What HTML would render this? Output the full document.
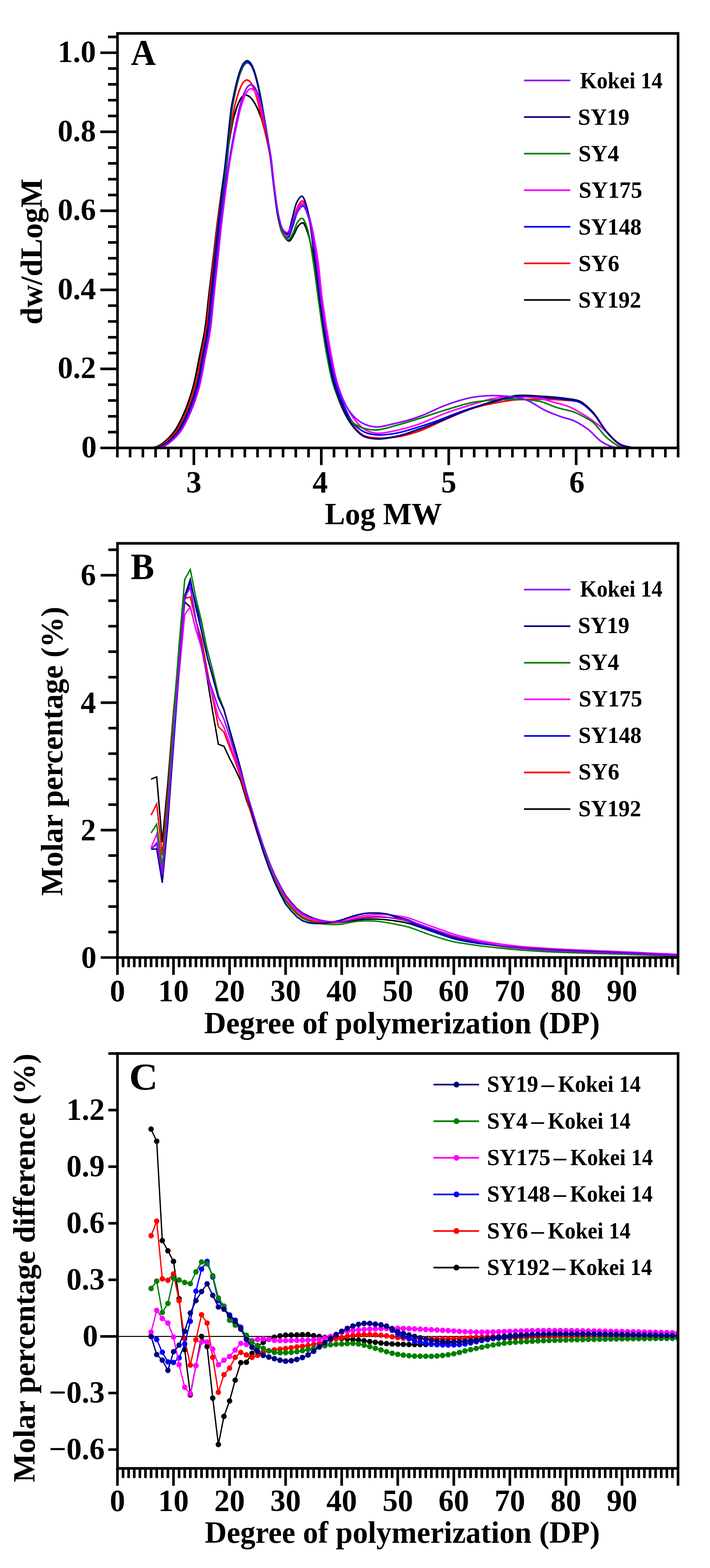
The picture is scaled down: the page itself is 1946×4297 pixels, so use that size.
<!DOCTYPE html>
<html><head><meta charset="utf-8"><title>Figure</title>
<style>
html,body{margin:0;padding:0;background:#fff;}
svg{display:block;}
text{font-family:'Liberation Serif','Times New Roman',serif;font-weight:bold;fill:#000;}
</style></head><body>
<svg width="1946" height="4297" viewBox="0 0 1946 4297" font-family="'Liberation Serif','Times New Roman',serif" font-weight="bold">
<rect width="1946" height="4297" fill="#fff"/>
<defs>
<clipPath id="ca"><rect x="322.0" y="91.5" width="1536.5" height="1136.0"/></clipPath>
<clipPath id="cb"><rect x="322.0" y="1489.0" width="1536.5" height="1135.0"/></clipPath>
<clipPath id="cc"><rect x="322.0" y="2887.0" width="1536.5" height="1137.0"/></clipPath>
</defs>
<g clip-path="url(#ca)" fill="none" stroke-width="4.4" stroke-linejoin="round">
<path d="M407.6 1227.5C414.6 1226.4 422.1 1226.5 428.6 1224.3C434.9 1222.1 439.8 1219.3 446.1 1214.5C455.4 1207.4 467.9 1195.7 477.1 1183.1C487.8 1168.6 496.5 1150 504.7 1131.1C513.9 1110.2 521.7 1087.1 528.5 1062.9C536 1036.2 541 1004.9 546.7 977.3C551.9 951.6 557.3 929.3 561.5 902.6C566.3 872.4 569 838 572.8 805.1C576.8 771.6 580.9 737.4 584.9 703.3C588.9 669.1 591.9 638.9 596.9 600.4C603.4 551 613.1 481.2 621.1 431.5C627.4 392 635.3 345.3 639.8 325.4C641.6 317.4 642.8 314.2 644.4 308.9C645.9 303.9 647.4 299 649 294.3C650.6 290 652.2 285.7 653.9 281.8C655.5 278.2 657.2 274.7 659.1 271.6C660.8 268.8 662.5 266 664.8 264.1C666.9 262.3 669.6 260.5 672.4 260.4C675.6 260.2 679.8 262.2 682.8 264.1C685.8 265.9 688.1 268.8 690.5 271.6C693.1 274.6 695.3 278.2 697.5 281.8C699.9 285.7 702 290 704.2 294.3C706.4 299 708.5 303.9 710.5 308.9C712.7 314.2 714.3 317.5 716.7 325.4C722.5 344.4 734.4 392.8 740.2 425C745.4 454.7 746.8 482.5 750.6 511.6C754.5 541.3 757.9 577.5 763.2 601.5C766.9 618.1 769.8 632.3 775.8 642.7C780.3 650.5 787.5 660.9 792.6 660.5C797.3 660.2 801.5 649.2 805.5 642.7C809.9 635.5 812.8 624.3 817.7 618.9C821.3 614.8 826.3 609.8 829.9 610.7C834.8 612 838.4 624 842.2 634C848.2 650.2 853.1 674.4 857.9 700.1C864.5 735.4 869.3 784.3 875.3 826.8C881.5 869.9 887.6 917 894.6 956.8C900.5 990.8 905.9 1022.8 913.8 1051C920.3 1074.6 927.6 1095.2 936.5 1114.9C944.6 1132.9 953.7 1150.8 964.4 1164.7C973.8 1176.9 983.8 1188.9 995.8 1195C1007.2 1200.8 1020.2 1201.1 1034.3 1201.5C1051.1 1201.9 1071.6 1199 1090.2 1195C1109.3 1190.9 1128.7 1183.2 1147.4 1176.6C1165.9 1170.1 1183.7 1163.3 1201.9 1156C1220.5 1148.6 1239.7 1139.7 1257.8 1132.6C1274.6 1126.1 1290.6 1120.4 1306.7 1114.9C1322.5 1109.5 1336.9 1104.5 1353.5 1099.7C1372 1094.4 1392.1 1087 1412.6 1084.5C1433.9 1082 1455.7 1084.4 1478.9 1085.6C1504.6 1087 1539.7 1090 1560 1093.2C1572.4 1095.1 1579.8 1094.8 1589.7 1099.7C1602 1105.9 1614.8 1118.5 1626.3 1131.1C1639.5 1145.6 1649.9 1168.1 1663 1183.1C1674.7 1196.5 1686.8 1210.4 1700 1217.8C1711.5 1224.1 1724.3 1224.3 1736.4 1227.5" stroke="#000000"/>
<path d="M412.5 1227.5C419.5 1226.4 427 1226.5 433.5 1224.3C439.8 1222.1 444.7 1219.3 450.9 1214.5C460.3 1207.4 472.8 1195.7 482 1183.1C492.7 1168.6 501.4 1150 509.6 1131.1C518.7 1110.2 526.7 1087.2 533.4 1062.9C540.7 1036.2 545.3 1004.9 550.8 977.3C555.8 951.6 561 929.2 565 902.6C569.4 872.3 571.8 838 575.4 805.1C579 771.6 582.8 737.4 586.5 703.3C590.2 669.1 592.9 638.9 597.6 600.4C603.8 551 613.6 484.7 621.4 431.5C628.4 383.9 637.2 320.9 642.2 296.1C644.1 286.7 645.3 282.9 647 276.7C648.6 270.7 650.3 264.9 652 259.4C653.7 254.3 655.4 249.2 657.2 244.6C658.9 240.3 660.7 236.1 662.7 232.5C664.6 229.2 666.3 225.8 668.8 223.6C671.1 221.5 674.2 219.2 676.9 219.2C679.6 219.2 682.7 221.5 684.9 223.6C687.4 225.8 689.1 229.2 690.9 232.5C692.9 236.1 694.6 240.3 696.3 244.6C698.1 249.2 699.7 254.3 701.3 259.4C703.1 264.9 704.7 270.7 706.2 276.7C707.9 282.9 708.8 286.8 711 296.1C716.7 320.1 733.4 386.1 740.2 425C745.6 456.6 746.8 483 750.6 511.6C754.5 540 757.8 574.1 763.2 596.1C766.8 610.8 770.4 624.1 775.8 631.8C779.2 636.8 784 642.4 787.7 641.6C793.1 640.3 797.5 621.6 802 610.2C807.1 597 810.3 577.5 816 566.9C819.8 559.7 824.7 550.1 828.9 550.6C834.8 551.4 840.8 572.2 845.7 588.5C853.7 615.5 858.3 661.7 863.8 700.1C869.7 740.9 873.9 784.3 879.5 826.8C885.3 869.9 891.2 917 898 956.8C903.9 990.8 909.4 1022.8 917.3 1051C923.8 1074.6 931.2 1095.2 940 1114.9C948 1132.9 956.9 1151 967.2 1164.7C975.9 1176.2 984.6 1186.9 995.8 1192.8C1007 1198.7 1020.2 1199.5 1034.3 1200.4C1051.1 1201.6 1071.6 1200.1 1090.2 1197.2C1109.3 1194.1 1127.4 1189 1147.4 1182C1170.8 1173.8 1196.5 1160 1221.1 1149.5C1245.7 1139.1 1271.4 1126.8 1294.8 1119.2C1315.3 1112.6 1334 1109 1353.5 1105.1C1372.8 1101.3 1391.4 1097.6 1411.5 1095.8C1433.1 1093.8 1456.6 1094.2 1478.9 1094.3C1500.9 1094.4 1524.5 1094.7 1544.3 1096.5C1560.8 1097.9 1576.1 1096.9 1589.7 1103C1603.5 1109.1 1614.8 1121 1626.3 1133.3C1639.5 1147.4 1650 1169.4 1663 1184.2C1674.7 1197.5 1686.7 1211.7 1700 1218.8C1711.4 1225 1724.3 1224.6 1736.4 1227.5" stroke="#ff0000"/>
<path d="M419.5 1227.5C426.5 1226.4 434 1226.5 440.5 1224.3C446.8 1222.1 451.6 1219.3 457.9 1214.5C467.3 1207.4 479.8 1195.7 489 1183.1C499.7 1168.6 508.4 1150 516.6 1131.1C525.7 1110.2 533.7 1087.2 540.4 1062.9C547.6 1036.2 552.1 1004.9 557.5 977.3C562.5 951.6 567.6 929.2 571.4 902.6C575.8 872.3 578.1 838 581.6 805.1C585.1 771.6 588.8 737.4 592.4 703.3C596 669.1 598.9 639 603.2 600.4C608.8 551.1 617.8 484.7 623.5 431.5C628.6 383.9 632.2 325.4 636.3 296.1C638.4 281.9 640.3 274.8 642.3 264.6C644.3 255 646.3 245.6 648.4 236.7C650.4 228.3 652.5 220.2 654.7 212.7C656.8 205.8 658.8 199 661.3 193C663.5 187.8 665.5 182.3 668.6 178.7C671.3 175.5 675.1 171.5 678.3 171.6C681.5 171.6 685.1 175.5 687.7 178.7C690.8 182.4 692.6 187.8 694.8 193C697.2 199 699.2 205.8 701.2 212.7C703.4 220.2 705.3 228.3 707.2 236.7C709.3 245.6 711.2 255 713.1 264.6C715.1 274.8 716.4 282.1 718.9 296.1C724 324.5 735.2 386.2 740.9 425C745.5 456.7 747.5 483 751.3 511.6C755.2 540 758.9 573.3 763.9 596.1C767.5 612.1 770.6 626.4 775.8 636.2C779.4 642.9 784.5 651.9 788.4 651.3C793.4 650.7 797.7 632 802 621C806.9 608.5 809.9 589.8 816 579.9C820.2 573 826.2 564 830.6 564.7C836.4 565.6 841.1 582.2 845.7 596.1C853.5 620.3 859.2 663.6 864.9 700.1C871 740.1 874.8 784.3 880.6 826.8C886.4 869.9 892.8 917.2 899.8 956.8C905.7 990.2 911.1 1021.4 919 1048.8C925.6 1071.7 933.3 1091.3 942.1 1110.5C950.1 1128.3 958.2 1147.6 969 1160.4C977.8 1170.9 988.2 1178.9 999.3 1184.2C1010.1 1189.2 1021.2 1191 1034.3 1191.8C1050.7 1192.7 1071.6 1189.9 1090.2 1186.3C1109.3 1182.7 1128.7 1175.9 1147.4 1170.1C1165.9 1164.4 1183.7 1158.3 1201.9 1151.7C1220.5 1145 1239.7 1136.5 1257.8 1130C1274.6 1124 1290.5 1118.7 1306.7 1113.8C1322.4 1109 1337 1104.8 1353.5 1100.8C1372 1096.4 1392.2 1090.9 1412.6 1088.9C1433.9 1086.7 1455.7 1087.8 1478.9 1088.9C1504.6 1090.1 1539.7 1093.3 1560 1096.5C1572.4 1098.4 1579.8 1098.2 1589.7 1103C1602 1109 1614.8 1121 1626.3 1133.3C1639.5 1147.4 1649.9 1169.6 1663 1184.2C1674.7 1197.2 1686.8 1210.5 1700 1217.8C1711.5 1224 1724.3 1224.3 1736.4 1227.5" stroke="#0000ff"/>
<path d="M424.7 1227.5C431.7 1226.4 439.2 1226.5 445.7 1224.3C452 1222.1 456.9 1219.3 463.2 1214.5C472.5 1207.4 485 1195.7 494.3 1183.1C504.9 1168.6 513.6 1150 521.8 1131.1C531 1110.2 539 1087.2 545.6 1062.9C552.9 1036.2 557.4 1004.9 562.8 977.3C567.8 951.6 572.9 929.2 576.8 902.6C581.2 872.3 583.5 838 587 805.1C590.6 771.6 594.3 737.4 597.9 703.3C601.6 669.1 604.2 638.9 608.8 600.4C614.8 551 623.2 483.3 631.9 431.5C639.3 387 651.4 330 656.5 308C658.4 300 659.4 296.9 660.9 291.6C662.4 286.6 663.8 281.7 665.4 277C666.9 272.7 668.5 268.4 670.2 264.5C671.7 260.9 673.3 257.3 675.2 254.3C676.9 251.5 678.4 248.6 680.7 246.7C682.8 245 685.7 243 688.1 243.1C690.5 243.1 693.2 245 695.2 246.7C697.4 248.6 698.9 251.5 700.5 254.3C702.3 257.3 703.8 260.9 705.3 264.5C707 268.4 708.4 272.7 709.9 277C711.4 281.7 712.8 286.6 714.2 291.6C715.7 296.9 716.6 300 718.5 308C723.3 329.3 736.2 388.8 741.9 425C746.8 455.9 748.2 483 752 511.6C755.8 540 759.7 573.7 764.6 596.1C768 611.4 771.1 625 775.8 634C778.9 639.9 782.9 647.5 786.3 647C791.1 646.4 795.6 627 800.2 615.6C805.6 602.4 809.7 582.6 816 572.3C820.2 565.4 825.5 556.4 829.9 557.1C836.2 558.1 842.1 578.1 847.4 593.9C856.1 619.8 863.4 663 869.4 700.1C875.9 740.3 878.2 784.4 884.1 826.8C890 869.9 897.7 917.2 905 956.8C911.2 990.2 916.3 1021.7 924.2 1048.8C930.8 1071.1 938 1090.2 946.9 1108.4C955.1 1125 964.6 1141.5 974.9 1153.9C983.5 1164.2 992.5 1173.2 1002.8 1178.8C1012.5 1184 1022.2 1186.7 1034.3 1187.4C1050.2 1188.3 1071.5 1182.8 1090.2 1178.8C1109.3 1174.6 1127.4 1169.5 1147.4 1162.5C1170.7 1154.5 1196.4 1141.3 1221.1 1132.2C1245.5 1123.2 1271.8 1115.4 1294.8 1108.4C1315.1 1102.2 1332.7 1095.7 1352.1 1092.1C1371.6 1088.5 1391.4 1086.9 1411.5 1086.7C1432.2 1086.5 1455.7 1088 1474.4 1091C1489.9 1093.6 1502.2 1098 1516.3 1101.9C1530.7 1105.9 1545.7 1108.9 1560 1114.9C1574.9 1121.1 1590.5 1130.6 1603.6 1138.7C1615.2 1145.8 1625.1 1152.7 1635.1 1160.4C1644.9 1167.9 1652.9 1175 1663 1184.2C1675.7 1195.7 1692.5 1218.1 1704.9 1224.3C1712.5 1228 1718.9 1226.4 1725.9 1227.5" stroke="#ff00ff"/>
<path d="M416.7 1227.5C423.7 1226.4 431.2 1226.5 437.7 1224.3C444 1222.1 448.8 1219.3 455.1 1214.5C464.5 1207.4 477 1195.7 486.2 1183.1C496.9 1168.6 505.6 1150 513.8 1131.1C522.9 1110.2 530.9 1087.2 537.6 1062.9C544.8 1036.2 549.3 1004.9 554.7 977.3C559.7 951.6 564.8 929.2 568.7 902.6C573 872.3 575.3 838 578.8 805.1C582.3 771.6 586 737.4 589.6 703.3C593.2 669.1 595.9 638.9 600.4 600.4C606.2 551 615.9 484.7 622.1 431.5C627.6 383.9 631.9 325.7 636.2 296.1C638.3 281.6 640.1 274.2 642.2 263.8C644.2 253.9 646.3 244.3 648.4 235.1C650.4 226.6 652.5 218.2 654.8 210.5C656.9 203.4 659 196.5 661.5 190.4C663.7 185 665.7 179.4 668.8 175.6C671.6 172.3 675.4 168.3 678.7 168.3C681.9 168.3 685.6 172.3 688.3 175.6C691.4 179.4 693.3 185 695.4 190.4C697.9 196.5 699.9 203.4 702 210.5C704.2 218.2 706.2 226.6 708.2 235.1C710.3 244.3 712.3 253.9 714.2 263.8C716.3 274.2 717.7 281.7 720.1 296.1C725.1 324.8 735.6 386.2 740.9 425C745.2 456.7 747 482.7 750.6 511.6C754.3 540.8 757.7 575.4 762.9 599.4C766.6 616.5 769.7 632.7 775.8 642.7C779.9 649.4 785.9 657.2 790.5 656.8C795.3 656.3 799.7 644.6 803.7 637.3C808.4 628.7 810.9 614.8 816 608C819.5 603.3 824.4 597.4 828.2 598.3C833.5 599.5 838.1 614.5 842.2 626.4C848.4 644.9 851.6 672.2 856.1 700.1C862.1 736.6 867.5 784.3 873.6 826.8C879.7 869.9 885.8 917.2 892.8 956.8C898.8 990.2 904.1 1021.7 912 1048.8C918.5 1071.1 925.9 1090.2 934.7 1108.4C942.8 1124.9 950.7 1142.8 962 1153.9C971.6 1163.4 983.8 1169.3 995.8 1173.3C1007.9 1177.4 1020.3 1178.8 1034.3 1178C1051.2 1177 1071.5 1169.7 1090.2 1164.7C1109.2 1159.5 1127.2 1153.7 1147.4 1147.4C1170.5 1140.1 1196.5 1131 1221.1 1123.5C1245.6 1116.2 1271.7 1107.5 1294.8 1103C1315 1099 1333.4 1097.9 1352.1 1096.5C1370 1095.1 1385.5 1094 1404.5 1094.3C1427.2 1094.6 1457.1 1095.1 1478.9 1099.7C1496.9 1103.5 1510.7 1112 1526.8 1117C1542.7 1122.1 1561.2 1124.8 1575 1130C1586 1134.2 1594.7 1139.2 1603.6 1144.1C1611.8 1148.6 1618.4 1151.5 1626.3 1158.2C1637.8 1167.8 1650 1187.5 1663 1199.3C1675.1 1210.3 1688.6 1218.1 1701.4 1227.5" stroke="#008000"/>
<path d="M417.4 1227.5C424.4 1226.4 431.9 1226.5 438.4 1224.3C444.7 1222.1 449.5 1219.3 455.8 1214.5C465.2 1207.4 477.7 1195.7 486.9 1183.1C497.6 1168.6 506.3 1150 514.5 1131.1C523.6 1110.2 531.7 1087.2 538.3 1062.9C545.5 1036.2 549.9 1004.9 555.1 977.3C560 951.6 565.1 929.2 568.9 902.6C573.2 872.3 575.3 838 578.7 805.1C582.1 771.6 585.7 737.4 589.2 703.3C592.7 669.1 595.5 639 599.7 600.4C605.1 551.1 613.4 484.7 619.3 431.5C624.6 383.9 629.5 325.9 633.9 296.1C636.1 281.4 638 273.9 640.2 263.2C642.2 253.2 644.3 243.4 646.5 234.1C648.6 225.4 650.7 216.9 653.1 209C655.2 201.8 657.4 194.8 660 188.6C662.2 183.1 664.3 177.4 667.5 173.6C670.3 170.2 674.3 166.1 677.6 166.2C680.9 166.2 684.6 170.3 687.2 173.6C690.3 177.4 692.2 183.1 694.4 188.6C696.8 194.8 698.9 201.8 700.9 209C703.1 216.9 705.1 225.4 707.1 234.1C709.2 243.4 711.2 253.2 713.1 263.2C715.2 273.9 716.5 281.5 719.1 296.1C724 324.9 734.6 386.2 740.2 425C744.7 456.7 746.8 483 750.6 511.6C754.5 540 757.8 574.1 763.2 596.1C766.8 610.8 770.4 624.1 775.8 631.8C779.2 636.8 784.2 642.6 787.7 641.6C793.3 639.9 796 615.6 800.2 601.5C804.9 586.1 808.1 564 814.2 552.8C818.1 545.7 823.4 537 827.5 537.6C833 538.5 837.8 556.7 842.2 572.3C850.3 601.1 855.5 657.5 861.4 700.1C867.2 742.4 871.3 784.3 877.1 826.8C882.9 869.9 889.3 917 896.3 956.8C902.3 990.8 907.6 1022.9 915.5 1051C922.1 1074.6 929.8 1095.2 938.6 1114.9C946.6 1132.8 955.1 1150.8 965.5 1164.7C974.5 1176.8 984.1 1188.6 995.8 1195C1007.1 1201.1 1020.2 1202.6 1034.3 1203C1051.1 1203.6 1071.6 1199.3 1090.2 1195C1109.3 1190.6 1128.7 1183.2 1147.4 1176.6C1165.9 1170.1 1183.7 1163.3 1201.9 1156C1220.5 1148.6 1239.7 1139.7 1257.8 1132.6C1274.6 1126.1 1290.6 1120.4 1306.7 1114.9C1322.5 1109.5 1336.9 1104.4 1353.5 1099.7C1372 1094.5 1392.2 1087.9 1412.6 1085.6C1433.9 1083.3 1455.7 1085.4 1478.9 1086.7C1504.6 1088.1 1539.7 1091.1 1560 1094.3C1572.4 1096.2 1579.8 1095.9 1589.7 1100.8C1602 1106.9 1614.8 1119.6 1626.3 1132.2C1639.5 1146.7 1649.9 1169.3 1663 1184.2C1674.6 1197.3 1686.8 1210.5 1700 1217.8C1711.5 1224 1724.3 1224.3 1736.4 1227.5" stroke="#000080"/>
<path d="M423 1227.5C430 1226.4 437.5 1226.5 444 1224.3C450.3 1222.1 455.1 1219.3 461.4 1214.5C470.8 1207.4 483.3 1195.7 492.5 1183.1C503.2 1168.6 511.9 1150 520.1 1131.1C529.2 1110.2 537.2 1087.2 543.9 1062.9C551.1 1036.2 555.6 1004.9 561 977.3C566 951.6 571.1 929.2 574.9 902.6C579.3 872.3 581.6 838 585.1 805.1C588.6 771.6 592.3 737.4 595.9 703.3C599.5 669.1 602.1 638.9 606.7 600.4C612.7 551 621 484.5 629.8 431.5C637.6 384 650.6 320.4 656 297.2C657.9 289 658.9 286.1 660.5 280.8C662 275.7 663.5 270.8 665.1 266.2C666.6 261.8 668.2 257.6 669.9 253.7C671.5 250 673.1 246.5 675 243.4C676.7 240.6 678.3 237.8 680.6 235.9C682.7 234.1 685.7 232.2 688.1 232.2C690.5 232.3 693.2 234.2 695.2 235.9C697.4 237.8 698.9 240.7 700.5 243.4C702.2 246.5 703.8 250 705.2 253.7C706.9 257.6 708.3 261.8 709.7 266.2C711.3 270.8 712.7 275.7 714.1 280.8C715.5 286.1 716.5 289.1 718.3 297.2C723.1 319.6 735.1 386.5 740.9 425C745.6 456.6 747.4 483 751.3 511.6C755.3 540 759.4 574.5 764.6 596.1C768 610 770.5 622.9 775.8 629.7C779.1 634 784.1 638.1 787.7 637.3C792.5 636.1 796.1 624 800.2 615.6C805.6 604.9 809.8 587.1 816 577.7C820.4 571 826.2 561.8 830.6 562.5C836.4 563.5 841.1 580 845.7 593.9C853.6 618.5 859.2 663.1 864.9 700.1C871 740.4 874.5 784.3 880.6 826.8C886.7 869.9 894.1 917.9 901.5 956.8C907.6 988.6 913 1017.5 920.7 1043.4C927.3 1065.4 934.2 1085.6 943.5 1103C951.5 1118.2 961.1 1132.7 971.4 1143C980 1151.6 989 1158 999.3 1162.5C1009.9 1167.1 1022.3 1170 1034.3 1170.1C1047 1170.3 1060.2 1165.5 1073.7 1162.5C1088.1 1159.4 1103.4 1156 1118.1 1151.7C1132.9 1147.3 1146.5 1142.6 1162.1 1136.5C1180.5 1129.3 1200.1 1118.2 1221.1 1110.5C1244.1 1102.1 1270 1093.2 1294.8 1088.9C1319.2 1084.6 1344.1 1083.4 1368.6 1084.5C1393.1 1085.7 1420.4 1088.4 1441.9 1095.8C1460.8 1102.3 1475.4 1115.6 1491.9 1123.5C1507.1 1130.8 1522.7 1136.7 1537.3 1141.9C1550.3 1146.6 1562.8 1148.3 1575 1153.9C1587.7 1159.7 1599.8 1167.6 1611.7 1176.6C1624.4 1186.2 1636.1 1202 1648.3 1210.2C1658.3 1216.8 1668.5 1221.4 1678 1224.3C1686.1 1226.7 1693.6 1226.4 1701.4 1227.5" stroke="#9000ff"/>
</g>
<g clip-path="url(#cb)" fill="none" stroke-width="3.9" stroke-linejoin="miter">
<polyline points="414.1,2135.3 429.5,2129 444.8,2308.3 460.2,2143.2 475.5,1952.1 490.9,1784.2 506.3,1649.7 521.6,1663.7 537,1725.7 552.4,1772 567.7,1858.2 583.1,1951.3 598.5,2039.6 613.8,2045 629.2,2077.9 644.6,2107.5 659.9,2140.2 675.3,2192.2 690.7,2234.6 706,2279.2 721.4,2322.1 736.8,2361.2 752.1,2396 767.5,2426.2 782.8,2453.4 798.2,2472.5 813.6,2489.9 828.9,2501.9 844.3,2509.6 859.7,2516.3 875,2521 890.4,2524.8 905.8,2527.1 921.1,2528.1 936.5,2527.6 951.9,2525.4 967.2,2522.9 982.6,2520.8 998,2519.4 1013.3,2518.7 1028.7,2518.7 1044.1,2519.4 1059.4,2520.6 1074.8,2522.4 1090.2,2524.7 1105.5,2527.2 1120.9,2530.5 1136.2,2535.6 1151.6,2541.2 1167,2546.7 1182.3,2551.9 1197.7,2556.8 1213.1,2561.6 1228.4,2566.2 1243.8,2570.6 1259.2,2574 1274.5,2577 1289.9,2579.8 1305.3,2582.9 1320.6,2585.6 1336,2587.9 1351.4,2590.1 1366.7,2592.3 1382.1,2594.3 1397.4,2596.2 1412.8,2597.9 1428.2,2599.4 1443.5,2600.7 1458.9,2601.9 1474.3,2603 1489.6,2604 1505,2604.9 1520.4,2605.7 1535.7,2606.4 1551.1,2607.1 1566.5,2607.7 1581.8,2608.3 1597.2,2608.9 1612.6,2609.4 1627.9,2609.9 1643.3,2610.5 1658.7,2611 1674,2611.5 1689.4,2612 1704.8,2612.6 1720.1,2613.1 1735.5,2613.8 1750.8,2614.4 1766.2,2615 1781.6,2615.6 1796.9,2616.2 1812.3,2616.7 1827.7,2617.3 1843,2617.9 1858.4,2618.4" stroke="#000000"/>
<polyline points="414.1,2233.9 429.5,2203 444.8,2343.8 460.2,2170.4 475.5,1963.8 490.9,1785.9 506.3,1639.8 521.6,1636.1 537,1701.8 552.4,1751.9 567.7,1836.4 583.1,1913.6 598.5,1991.2 613.8,2006.4 629.2,2047.5 644.6,2086.4 659.9,2130.8 675.3,2185.4 690.7,2238.3 706,2287 721.4,2331.2 736.8,2371.7 752.1,2407.6 767.5,2438.5 782.8,2465.8 798.2,2484.3 813.6,2501.1 828.9,2512.6 844.3,2519.8 859.7,2524.4 875,2527.3 890.4,2528.8 905.8,2529.2 921.1,2528.7 936.5,2526.7 951.9,2523 967.2,2519.1 982.6,2516 998,2513.7 1013.3,2512.2 1028.7,2511.7 1044.1,2512.2 1059.4,2513.5 1074.8,2515.7 1090.2,2518.5 1105.5,2521.4 1120.9,2525 1136.2,2530.1 1151.6,2535.8 1167,2541.4 1182.3,2546.7 1197.7,2552 1213.1,2557.2 1228.4,2562.3 1243.8,2567.1 1259.2,2570.9 1274.5,2574.1 1289.9,2577.2 1305.3,2580.5 1320.6,2583.5 1336,2586 1351.4,2588.5 1366.7,2590.9 1382.1,2593.1 1397.4,2595.2 1412.8,2597 1428.2,2598.6 1443.5,2600 1458.9,2601.3 1474.3,2602.5 1489.6,2603.6 1505,2604.6 1520.4,2605.4 1535.7,2606.2 1551.1,2606.9 1566.5,2607.6 1581.8,2608.2 1597.2,2608.8 1612.6,2609.3 1627.9,2609.9 1643.3,2610.4 1658.7,2610.9 1674,2611.5 1689.4,2612 1704.8,2612.5 1720.1,2613.1 1735.5,2613.7 1750.8,2614.4 1766.2,2615 1781.6,2615.6 1796.9,2616.1 1812.3,2616.7 1827.7,2617.3 1843,2617.8 1858.4,2618.4" stroke="#ff0000"/>
<polyline points="414.1,2327.2 429.5,2312.5 444.8,2411.7 460.2,2246 475.5,2045.7 490.9,1839 506.3,1644.5 521.6,1595.6 537,1656.7 552.4,1709.6 567.7,1779.3 583.1,1839.2 598.5,1906.4 613.8,1945.2 629.2,1998.2 644.6,2052 659.9,2107.4 675.3,2170 690.7,2228.5 706,2283.5 721.4,2334.2 736.8,2377.7 752.1,2415.9 767.5,2448.7 782.8,2477.5 798.2,2496.3 813.6,2512.6 828.9,2523.1 844.3,2528.5 859.7,2530.6 875,2530.8 890.4,2529.8 905.8,2527.8 921.1,2525 936.5,2521 951.9,2515.7 967.2,2510.5 982.6,2506.3 998,2503.4 1013.3,2502 1028.7,2502 1044.1,2502.9 1059.4,2505.3 1074.8,2509.7 1090.2,2515.2 1105.5,2519.8 1120.9,2525.2 1136.2,2532.4 1151.6,2539.1 1167,2545.4 1182.3,2551.6 1197.7,2557.5 1213.1,2562.9 1228.4,2568.1 1243.8,2572.8 1259.2,2576.6 1274.5,2579.5 1289.9,2582 1305.3,2584.5 1320.6,2586.6 1336,2588.4 1351.4,2590.1 1366.7,2591.8 1382.1,2593.3 1397.4,2594.8 1412.8,2596.3 1428.2,2597.7 1443.5,2598.8 1458.9,2599.9 1474.3,2601 1489.6,2601.9 1505,2602.7 1520.4,2603.4 1535.7,2604.1 1551.1,2604.8 1566.5,2605.5 1581.8,2606.1 1597.2,2606.7 1612.6,2607.3 1627.9,2607.9 1643.3,2608.5 1658.7,2609.1 1674,2609.7 1689.4,2610.3 1704.8,2610.9 1720.1,2611.6 1735.5,2612.3 1750.8,2613 1766.2,2613.7 1781.6,2614.4 1796.9,2615 1812.3,2615.7 1827.7,2616.4 1843,2617.1 1858.4,2617.7" stroke="#0000ff"/>
<polyline points="414.1,2323.2 429.5,2285.6 444.8,2380.4 460.2,2210 475.5,2022.2 490.9,1845.3 506.3,1684.7 521.6,1662.7 537,1725.7 552.4,1777 567.7,1853.8 583.1,1905.9 598.5,1965.8 613.8,1993 629.2,2036.6 644.6,2079.6 659.9,2122.4 675.3,2175.8 690.7,2222.8 706,2272.4 721.4,2319 736.8,2361.4 752.1,2398.9 767.5,2430.5 782.8,2458.5 798.2,2477.6 813.6,2495 828.9,2507.1 844.3,2514.9 859.7,2520.2 875,2523.6 890.4,2525.4 905.8,2525.9 921.1,2524.6 936.5,2521.9 951.9,2518.2 967.2,2514.5 982.6,2511.4 998,2508.9 1013.3,2507.2 1028.7,2506.3 1044.1,2506.1 1059.4,2506.6 1074.8,2507.9 1090.2,2510 1105.5,2512.4 1120.9,2515.9 1136.2,2521.1 1151.6,2527 1167,2532.9 1182.3,2538.4 1197.7,2543.9 1213.1,2549.4 1228.4,2554.8 1243.8,2559.9 1259.2,2564.3 1274.5,2568.2 1289.9,2571.8 1305.3,2575.5 1320.6,2578.8 1336,2581.4 1351.4,2584 1366.7,2586.3 1382.1,2588.5 1397.4,2590.5 1412.8,2592.2 1428.2,2593.7 1443.5,2595 1458.9,2596.2 1474.3,2597.3 1489.6,2598.3 1505,2599.2 1520.4,2600.1 1535.7,2600.9 1551.1,2601.7 1566.5,2602.4 1581.8,2603.1 1597.2,2603.7 1612.6,2604.4 1627.9,2605 1643.3,2605.6 1658.7,2606.2 1674,2606.8 1689.4,2607.5 1704.8,2608.1 1720.1,2608.8 1735.5,2609.5 1750.8,2610.2 1766.2,2611 1781.6,2611.7 1796.9,2612.4 1812.3,2613.1 1827.7,2613.7 1843,2614.4 1858.4,2615.1" stroke="#ff00ff"/>
<polyline points="414.1,2282.8 429.5,2258.6 444.8,2374.8 460.2,2191.9 475.5,1967.7 490.9,1766.9 506.3,1587.6 521.6,1560.7 537,1638.9 552.4,1703 567.7,1781.6 583.1,1838 598.5,1903.9 613.8,1942.9 629.2,2003.1 644.6,2056.6 659.9,2109.1 675.3,2167.2 690.7,2224.2 706,2277.9 721.4,2327.7 736.8,2372.1 752.1,2410.1 767.5,2441.8 782.8,2469.7 798.2,2488.6 813.6,2505.4 828.9,2516.7 844.3,2523.4 859.7,2527.9 875,2530.8 890.4,2532.6 905.8,2533.6 921.1,2533.8 936.5,2532.7 951.9,2529.7 967.2,2526.6 982.6,2524.5 998,2523.5 1013.3,2523.4 1028.7,2524.3 1044.1,2525.9 1059.4,2528.1 1074.8,2530.9 1090.2,2534 1105.5,2537.1 1120.9,2540.9 1136.2,2546.2 1151.6,2552 1167,2557.7 1182.3,2563 1197.7,2568 1213.1,2572.7 1228.4,2577.1 1243.8,2581 1259.2,2583.8 1274.5,2586 1289.9,2588.2 1305.3,2590.6 1320.6,2592.7 1336,2594.4 1351.4,2596.1 1366.7,2597.7 1382.1,2599.3 1397.4,2601 1412.8,2602.4 1428.2,2603.7 1443.5,2604.9 1458.9,2605.9 1474.3,2606.9 1489.6,2607.8 1505,2608.5 1520.4,2609.2 1535.7,2609.8 1551.1,2610.4 1566.5,2610.9 1581.8,2611.4 1597.2,2611.9 1612.6,2612.3 1627.9,2612.8 1643.3,2613.2 1658.7,2613.6 1674,2614 1689.4,2614.5 1704.8,2614.9 1720.1,2615.4 1735.5,2616 1750.8,2616.5 1766.2,2617.1 1781.6,2617.6 1796.9,2618.1 1812.3,2618.6 1827.7,2619.1 1843,2619.7 1858.4,2620.2" stroke="#008000"/>
<polyline points="414.1,2327.2 429.5,2326.5 444.8,2419 460.2,2253.8 475.5,2035.8 490.9,1827.1 506.3,1632.8 521.6,1587.9 537,1665.4 552.4,1730.4 567.7,1800.1 583.1,1856.1 598.5,1912.3 613.8,1945.9 629.2,1999.1 644.6,2052.9 659.9,2109.1 675.3,2171.1 690.7,2229.1 706,2283.5 721.4,2334.2 736.8,2377.7 752.1,2415.9 767.5,2448.7 782.8,2477.5 798.2,2496.3 813.6,2512.6 828.9,2523.1 844.3,2528.5 859.7,2530.6 875,2530.8 890.4,2529.8 905.8,2527.8 921.1,2525 936.5,2521 951.9,2515.7 967.2,2510.5 982.6,2506.3 998,2503.4 1013.3,2502 1028.7,2502 1044.1,2502.5 1059.4,2504.4 1074.8,2508.3 1090.2,2513.1 1105.5,2517.1 1120.9,2521.7 1136.2,2528 1151.6,2534.9 1167,2541.9 1182.3,2548.3 1197.7,2554.2 1213.1,2559.7 1228.4,2565 1243.8,2569.9 1259.2,2573.8 1274.5,2577.1 1289.9,2580 1305.3,2583 1320.6,2585.6 1336,2587.6 1351.4,2589.5 1366.7,2591.2 1382.1,2592.9 1397.4,2594.5 1412.8,2596 1428.2,2597.4 1443.5,2598.6 1458.9,2599.7 1474.3,2600.8 1489.6,2601.7 1505,2602.5 1520.4,2603.2 1535.7,2603.9 1551.1,2604.6 1566.5,2605.3 1581.8,2606 1597.2,2606.6 1612.6,2607.2 1627.9,2607.8 1643.3,2608.5 1658.7,2609.1 1674,2609.7 1689.4,2610.3 1704.8,2610.9 1720.1,2611.6 1735.5,2612.3 1750.8,2613 1766.2,2613.7 1781.6,2614.4 1796.9,2615.1 1812.3,2615.7 1827.7,2616.4 1843,2617.1 1858.4,2617.7" stroke="#000080"/>
<polyline points="414.1,2327.2 429.5,2309.7 444.8,2397 460.2,2222.4 475.5,2021.6 490.9,1819.1 506.3,1637.5 521.6,1609.6 537,1698.6 552.4,1772 567.7,1848.8 583.1,1894.2 598.5,1939.6 613.8,1971 629.2,2018.1 644.6,2067 659.9,2115.9 675.3,2168.3 690.7,2218.9 706,2269.6 721.4,2316.7 736.8,2358.6 752.1,2395.3 767.5,2426.7 782.8,2454.6 798.2,2473.8 813.6,2491.3 828.9,2503.5 844.3,2511.4 859.7,2517 875,2521 890.4,2524 905.8,2525.9 921.1,2526.6 936.5,2525.7 951.9,2523.1 967.2,2520.1 982.6,2517.5 998,2515.4 1013.3,2514 1028.7,2513.3 1044.1,2513.3 1059.4,2514 1074.8,2515.4 1090.2,2517.5 1105.5,2519.8 1120.9,2523.1 1136.2,2528 1151.6,2533.7 1167,2539.3 1182.3,2544.6 1197.7,2549.9 1213.1,2555 1228.4,2560.1 1243.8,2565 1259.2,2569 1274.5,2572.5 1289.9,2576 1305.3,2579.6 1320.6,2582.8 1336,2585.5 1351.4,2588.2 1366.7,2590.7 1382.1,2593.1 1397.4,2595.2 1412.8,2597.1 1428.2,2598.7 1443.5,2600.2 1458.9,2601.5 1474.3,2602.7 1489.6,2603.8 1505,2604.7 1520.4,2605.6 1535.7,2606.3 1551.1,2607.1 1566.5,2607.8 1581.8,2608.4 1597.2,2608.9 1612.6,2609.5 1627.9,2610 1643.3,2610.6 1658.7,2611.1 1674,2611.6 1689.4,2612.1 1704.8,2612.7 1720.1,2613.2 1735.5,2613.8 1750.8,2614.4 1766.2,2615 1781.6,2615.6 1796.9,2616.2 1812.3,2616.7 1827.7,2617.3 1843,2617.9 1858.4,2618.4" stroke="#9000ff"/>
</g>
<line x1="322" y1="3662.4" x2="1858.5" y2="3662.4" stroke="#000" stroke-width="2.6" stroke-linecap="butt"/>
<g clip-path="url(#cc)">
<polyline points="414.1,3094.3 429.5,3127.4 444.8,3399.8 460.2,3427.7 475.5,3456.7 490.9,3559 506.3,3698.6 521.6,3822.6 537,3742.5 552.4,3662.4 567.7,3690.3 583.1,3831.4 598.5,3958.6 613.8,3881.6 629.2,3839.2 644.6,3782.3 659.9,3734.2 675.3,3733.2 690.7,3708.9 706,3690.8 721.4,3678.4 736.8,3670.2 752.1,3664.5 767.5,3660.8 782.8,3658.8 798.2,3658.4 813.6,3658.3 828.9,3657.5 844.3,3657.2 859.7,3660.3 875,3662.4 890.4,3665 905.8,3666.2 921.1,3667.1 936.5,3668.1 951.9,3669.3 967.2,3670.7 982.6,3672.2 998,3674.2 1013.3,3676.4 1028.7,3678.5 1044.1,3680.5 1059.4,3682 1074.8,3683.1 1090.2,3683.7 1105.5,3684.1 1120.9,3684.4 1136.2,3684.6 1151.6,3684.6 1167,3684.4 1182.3,3683.9 1197.7,3683.1 1213.1,3681.9 1228.4,3680.5 1243.8,3678.9 1259.2,3677.3 1274.5,3675.6 1289.9,3673.8 1305.3,3672.1 1320.6,3670.7 1336,3669.4 1351.4,3668.1 1366.7,3667.1 1382.1,3666.2 1397.4,3665.5 1412.8,3665 1428.2,3664.5 1443.5,3664.1 1458.9,3663.7 1474.3,3663.4 1489.6,3663.1 1505,3662.9 1520.4,3662.7 1535.7,3662.5 1551.1,3662.4 1566.5,3662.3 1581.8,3662.2 1597.2,3662.2 1612.6,3662.1 1627.9,3662.1 1643.3,3662.1 1658.7,3662.1 1674,3662.1 1689.4,3662.1 1704.8,3662.1 1720.1,3662.2 1735.5,3662.2 1750.8,3662.2 1766.2,3662.3 1781.6,3662.3 1796.9,3662.3 1812.3,3662.4 1827.7,3662.4 1843,3662.4 1858.4,3662.4" fill="none" stroke="#000000" stroke-width="3.6"/>
<g fill="#000000"><circle cx="414.1" cy="3094.3" r="7.5"/><circle cx="429.5" cy="3127.4" r="7.5"/><circle cx="444.8" cy="3399.8" r="7.5"/><circle cx="460.2" cy="3427.7" r="7.5"/><circle cx="475.5" cy="3456.7" r="7.5"/><circle cx="490.9" cy="3559" r="7.5"/><circle cx="506.3" cy="3698.6" r="7.5"/><circle cx="521.6" cy="3822.6" r="7.5"/><circle cx="537" cy="3742.5" r="7.5"/><circle cx="552.4" cy="3662.4" r="7.5"/><circle cx="567.7" cy="3690.3" r="7.5"/><circle cx="583.1" cy="3831.4" r="7.5"/><circle cx="598.5" cy="3958.6" r="7.5"/><circle cx="613.8" cy="3881.6" r="7.5"/><circle cx="629.2" cy="3839.2" r="7.5"/><circle cx="644.6" cy="3782.3" r="7.5"/><circle cx="659.9" cy="3734.2" r="7.5"/><circle cx="675.3" cy="3733.2" r="7.5"/><circle cx="690.7" cy="3708.9" r="7.5"/><circle cx="706" cy="3690.8" r="7.5"/><circle cx="721.4" cy="3678.4" r="7.5"/><circle cx="736.8" cy="3670.2" r="7.5"/><circle cx="752.1" cy="3664.5" r="7.5"/><circle cx="767.5" cy="3660.8" r="7.5"/><circle cx="782.8" cy="3658.8" r="7.5"/><circle cx="798.2" cy="3658.4" r="7.5"/><circle cx="813.6" cy="3658.3" r="7.5"/><circle cx="828.9" cy="3657.5" r="7.5"/><circle cx="844.3" cy="3657.2" r="7.5"/><circle cx="859.7" cy="3660.3" r="7.5"/><circle cx="875" cy="3662.4" r="7.5"/><circle cx="890.4" cy="3665" r="7.5"/><circle cx="905.8" cy="3666.2" r="7.5"/><circle cx="921.1" cy="3667.1" r="7.5"/><circle cx="936.5" cy="3668.1" r="7.5"/><circle cx="951.9" cy="3669.3" r="7.5"/><circle cx="967.2" cy="3670.7" r="7.5"/><circle cx="982.6" cy="3672.2" r="7.5"/><circle cx="998" cy="3674.2" r="7.5"/><circle cx="1013.3" cy="3676.4" r="7.5"/><circle cx="1028.7" cy="3678.5" r="7.5"/><circle cx="1044.1" cy="3680.5" r="7.5"/><circle cx="1059.4" cy="3682" r="7.5"/><circle cx="1074.8" cy="3683.1" r="7.5"/><circle cx="1090.2" cy="3683.7" r="7.5"/><circle cx="1105.5" cy="3684.1" r="7.5"/><circle cx="1120.9" cy="3684.4" r="7.5"/><circle cx="1136.2" cy="3684.6" r="7.5"/><circle cx="1151.6" cy="3684.6" r="7.5"/><circle cx="1167" cy="3684.4" r="7.5"/><circle cx="1182.3" cy="3683.9" r="7.5"/><circle cx="1197.7" cy="3683.1" r="7.5"/><circle cx="1213.1" cy="3681.9" r="7.5"/><circle cx="1228.4" cy="3680.5" r="7.5"/><circle cx="1243.8" cy="3678.9" r="7.5"/><circle cx="1259.2" cy="3677.3" r="7.5"/><circle cx="1274.5" cy="3675.6" r="7.5"/><circle cx="1289.9" cy="3673.8" r="7.5"/><circle cx="1305.3" cy="3672.1" r="7.5"/><circle cx="1320.6" cy="3670.7" r="7.5"/><circle cx="1336" cy="3669.4" r="7.5"/><circle cx="1351.4" cy="3668.1" r="7.5"/><circle cx="1366.7" cy="3667.1" r="7.5"/><circle cx="1382.1" cy="3666.2" r="7.5"/><circle cx="1397.4" cy="3665.5" r="7.5"/><circle cx="1412.8" cy="3665" r="7.5"/><circle cx="1428.2" cy="3664.5" r="7.5"/><circle cx="1443.5" cy="3664.1" r="7.5"/><circle cx="1458.9" cy="3663.7" r="7.5"/><circle cx="1474.3" cy="3663.4" r="7.5"/><circle cx="1489.6" cy="3663.1" r="7.5"/><circle cx="1505" cy="3662.9" r="7.5"/><circle cx="1520.4" cy="3662.7" r="7.5"/><circle cx="1535.7" cy="3662.5" r="7.5"/><circle cx="1551.1" cy="3662.4" r="7.5"/><circle cx="1566.5" cy="3662.3" r="7.5"/><circle cx="1581.8" cy="3662.2" r="7.5"/><circle cx="1597.2" cy="3662.2" r="7.5"/><circle cx="1612.6" cy="3662.1" r="7.5"/><circle cx="1627.9" cy="3662.1" r="7.5"/><circle cx="1643.3" cy="3662.1" r="7.5"/><circle cx="1658.7" cy="3662.1" r="7.5"/><circle cx="1674" cy="3662.1" r="7.5"/><circle cx="1689.4" cy="3662.1" r="7.5"/><circle cx="1704.8" cy="3662.1" r="7.5"/><circle cx="1720.1" cy="3662.2" r="7.5"/><circle cx="1735.5" cy="3662.2" r="7.5"/><circle cx="1750.8" cy="3662.2" r="7.5"/><circle cx="1766.2" cy="3662.3" r="7.5"/><circle cx="1781.6" cy="3662.3" r="7.5"/><circle cx="1796.9" cy="3662.3" r="7.5"/><circle cx="1812.3" cy="3662.4" r="7.5"/><circle cx="1827.7" cy="3662.4" r="7.5"/><circle cx="1843" cy="3662.4" r="7.5"/><circle cx="1858.4" cy="3662.4" r="7.5"/></g>
<polyline points="414.1,3386.4 429.5,3346.6 444.8,3504.7 460.2,3508.4 475.5,3491.3 490.9,3564.2 506.3,3669.1 521.6,3741 537,3671.7 552.4,3603 567.7,3625.7 583.1,3719.8 598.5,3815.4 613.8,3767.3 629.2,3749.2 644.6,3719.8 659.9,3706.3 675.3,3713.1 690.7,3719.8 706,3714.1 721.4,3705.3 736.8,3701.2 752.1,3699 767.5,3697.3 782.8,3695.5 798.2,3693.4 813.6,3691.3 828.9,3689.4 844.3,3687.2 859.7,3684.4 875,3681 890.4,3676.6 905.8,3672.2 921.1,3668.7 936.5,3665.5 951.9,3662.1 967.2,3659.3 982.6,3657.8 998,3657.2 1013.3,3657.2 1028.7,3657.7 1044.1,3659 1059.4,3660.8 1074.8,3663.2 1090.2,3665.5 1105.5,3667.1 1120.9,3668.1 1136.2,3668.4 1151.6,3668.6 1167,3668.6 1182.3,3668.6 1197.7,3668.7 1213.1,3668.8 1228.4,3668.8 1243.8,3668.6 1259.2,3668 1274.5,3667.1 1289.9,3666.1 1305.3,3665.2 1320.6,3664.5 1336,3663.9 1351.4,3663.4 1366.7,3663 1382.1,3662.6 1397.4,3662.4 1412.8,3662.2 1428.2,3662.1 1443.5,3662 1458.9,3662 1474.3,3661.9 1489.6,3661.9 1505,3661.9 1520.4,3661.9 1535.7,3661.9 1551.1,3661.9 1566.5,3661.9 1581.8,3661.9 1597.2,3661.9 1612.6,3661.9 1627.9,3661.9 1643.3,3662 1658.7,3662 1674,3662 1689.4,3662 1704.8,3662.1 1720.1,3662.1 1735.5,3662.1 1750.8,3662.2 1766.2,3662.2 1781.6,3662.2 1796.9,3662.3 1812.3,3662.3 1827.7,3662.3 1843,3662.4 1858.4,3662.4" fill="none" stroke="#ff0000" stroke-width="3.6"/>
<g fill="#ff0000"><circle cx="414.1" cy="3386.4" r="7.5"/><circle cx="429.5" cy="3346.6" r="7.5"/><circle cx="444.8" cy="3504.7" r="7.5"/><circle cx="460.2" cy="3508.4" r="7.5"/><circle cx="475.5" cy="3491.3" r="7.5"/><circle cx="490.9" cy="3564.2" r="7.5"/><circle cx="506.3" cy="3669.1" r="7.5"/><circle cx="521.6" cy="3741" r="7.5"/><circle cx="537" cy="3671.7" r="7.5"/><circle cx="552.4" cy="3603" r="7.5"/><circle cx="567.7" cy="3625.7" r="7.5"/><circle cx="583.1" cy="3719.8" r="7.5"/><circle cx="598.5" cy="3815.4" r="7.5"/><circle cx="613.8" cy="3767.3" r="7.5"/><circle cx="629.2" cy="3749.2" r="7.5"/><circle cx="644.6" cy="3719.8" r="7.5"/><circle cx="659.9" cy="3706.3" r="7.5"/><circle cx="675.3" cy="3713.1" r="7.5"/><circle cx="690.7" cy="3719.8" r="7.5"/><circle cx="706" cy="3714.1" r="7.5"/><circle cx="721.4" cy="3705.3" r="7.5"/><circle cx="736.8" cy="3701.2" r="7.5"/><circle cx="752.1" cy="3699" r="7.5"/><circle cx="767.5" cy="3697.3" r="7.5"/><circle cx="782.8" cy="3695.5" r="7.5"/><circle cx="798.2" cy="3693.4" r="7.5"/><circle cx="813.6" cy="3691.3" r="7.5"/><circle cx="828.9" cy="3689.4" r="7.5"/><circle cx="844.3" cy="3687.2" r="7.5"/><circle cx="859.7" cy="3684.4" r="7.5"/><circle cx="875" cy="3681" r="7.5"/><circle cx="890.4" cy="3676.6" r="7.5"/><circle cx="905.8" cy="3672.2" r="7.5"/><circle cx="921.1" cy="3668.7" r="7.5"/><circle cx="936.5" cy="3665.5" r="7.5"/><circle cx="951.9" cy="3662.1" r="7.5"/><circle cx="967.2" cy="3659.3" r="7.5"/><circle cx="982.6" cy="3657.8" r="7.5"/><circle cx="998" cy="3657.2" r="7.5"/><circle cx="1013.3" cy="3657.2" r="7.5"/><circle cx="1028.7" cy="3657.7" r="7.5"/><circle cx="1044.1" cy="3659" r="7.5"/><circle cx="1059.4" cy="3660.8" r="7.5"/><circle cx="1074.8" cy="3663.2" r="7.5"/><circle cx="1090.2" cy="3665.5" r="7.5"/><circle cx="1105.5" cy="3667.1" r="7.5"/><circle cx="1120.9" cy="3668.1" r="7.5"/><circle cx="1136.2" cy="3668.4" r="7.5"/><circle cx="1151.6" cy="3668.6" r="7.5"/><circle cx="1167" cy="3668.6" r="7.5"/><circle cx="1182.3" cy="3668.6" r="7.5"/><circle cx="1197.7" cy="3668.7" r="7.5"/><circle cx="1213.1" cy="3668.8" r="7.5"/><circle cx="1228.4" cy="3668.8" r="7.5"/><circle cx="1243.8" cy="3668.6" r="7.5"/><circle cx="1259.2" cy="3668" r="7.5"/><circle cx="1274.5" cy="3667.1" r="7.5"/><circle cx="1289.9" cy="3666.1" r="7.5"/><circle cx="1305.3" cy="3665.2" r="7.5"/><circle cx="1320.6" cy="3664.5" r="7.5"/><circle cx="1336" cy="3663.9" r="7.5"/><circle cx="1351.4" cy="3663.4" r="7.5"/><circle cx="1366.7" cy="3663" r="7.5"/><circle cx="1382.1" cy="3662.6" r="7.5"/><circle cx="1397.4" cy="3662.4" r="7.5"/><circle cx="1412.8" cy="3662.2" r="7.5"/><circle cx="1428.2" cy="3662.1" r="7.5"/><circle cx="1443.5" cy="3662" r="7.5"/><circle cx="1458.9" cy="3662" r="7.5"/><circle cx="1474.3" cy="3661.9" r="7.5"/><circle cx="1489.6" cy="3661.9" r="7.5"/><circle cx="1505" cy="3661.9" r="7.5"/><circle cx="1520.4" cy="3661.9" r="7.5"/><circle cx="1535.7" cy="3661.9" r="7.5"/><circle cx="1551.1" cy="3661.9" r="7.5"/><circle cx="1566.5" cy="3661.9" r="7.5"/><circle cx="1581.8" cy="3661.9" r="7.5"/><circle cx="1597.2" cy="3661.9" r="7.5"/><circle cx="1612.6" cy="3661.9" r="7.5"/><circle cx="1627.9" cy="3661.9" r="7.5"/><circle cx="1643.3" cy="3662" r="7.5"/><circle cx="1658.7" cy="3662" r="7.5"/><circle cx="1674" cy="3662" r="7.5"/><circle cx="1689.4" cy="3662" r="7.5"/><circle cx="1704.8" cy="3662.1" r="7.5"/><circle cx="1720.1" cy="3662.1" r="7.5"/><circle cx="1735.5" cy="3662.1" r="7.5"/><circle cx="1750.8" cy="3662.2" r="7.5"/><circle cx="1766.2" cy="3662.2" r="7.5"/><circle cx="1781.6" cy="3662.2" r="7.5"/><circle cx="1796.9" cy="3662.3" r="7.5"/><circle cx="1812.3" cy="3662.3" r="7.5"/><circle cx="1827.7" cy="3662.3" r="7.5"/><circle cx="1843" cy="3662.4" r="7.5"/><circle cx="1858.4" cy="3662.4" r="7.5"/></g>
<polyline points="414.1,3662.4 429.5,3670.7 444.8,3705.8 460.2,3732.2 475.5,3733.7 490.9,3721.3 506.3,3683.1 521.6,3621 537,3538.3 552.4,3477.9 567.7,3456.7 583.1,3499.6 598.5,3564.2 613.8,3585.9 629.2,3603.5 644.6,3617.9 659.9,3637.1 675.3,3667.6 690.7,3690.8 706,3703.8 721.4,3714.1 736.8,3718.9 752.1,3723.4 767.5,3727.6 782.8,3730.1 798.2,3729 813.6,3725.5 828.9,3720.3 844.3,3713.1 859.7,3702.9 875,3691.3 890.4,3679.6 905.8,3668.1 921.1,3657.7 936.5,3648.4 951.9,3640.4 967.2,3634 982.6,3629.3 998,3626.7 1013.3,3626.8 1028.7,3628.8 1044.1,3631.6 1059.4,3636.6 1074.8,3645.6 1090.2,3655.7 1105.5,3662.4 1120.9,3668.6 1136.2,3675.3 1151.6,3678.3 1167,3680.5 1182.3,3683.2 1197.7,3685.1 1213.1,3685.8 1228.4,3685.9 1243.8,3685.7 1259.2,3684.9 1274.5,3683.1 1289.9,3680.3 1305.3,3677 1320.6,3673.8 1336,3670.9 1351.4,3668.1 1366.7,3665.5 1382.1,3663.1 1397.4,3661.4 1412.8,3660.3 1428.2,3659.3 1443.5,3658.5 1458.9,3657.8 1474.3,3657.2 1489.6,3656.7 1505,3656.3 1520.4,3656 1535.7,3655.8 1551.1,3655.7 1566.5,3655.7 1581.8,3655.8 1597.2,3655.9 1612.6,3656 1627.9,3656.2 1643.3,3656.4 1658.7,3656.6 1674,3656.8 1689.4,3657 1704.8,3657.2 1720.1,3657.5 1735.5,3657.8 1750.8,3658 1766.2,3658.4 1781.6,3658.7 1796.9,3659 1812.3,3659.4 1827.7,3659.7 1843,3660 1858.4,3660.3" fill="none" stroke="#0000ff" stroke-width="3.6"/>
<g fill="#0000ff"><circle cx="414.1" cy="3662.4" r="7.5"/><circle cx="429.5" cy="3670.7" r="7.5"/><circle cx="444.8" cy="3705.8" r="7.5"/><circle cx="460.2" cy="3732.2" r="7.5"/><circle cx="475.5" cy="3733.7" r="7.5"/><circle cx="490.9" cy="3721.3" r="7.5"/><circle cx="506.3" cy="3683.1" r="7.5"/><circle cx="521.6" cy="3621" r="7.5"/><circle cx="537" cy="3538.3" r="7.5"/><circle cx="552.4" cy="3477.9" r="7.5"/><circle cx="567.7" cy="3456.7" r="7.5"/><circle cx="583.1" cy="3499.6" r="7.5"/><circle cx="598.5" cy="3564.2" r="7.5"/><circle cx="613.8" cy="3585.9" r="7.5"/><circle cx="629.2" cy="3603.5" r="7.5"/><circle cx="644.6" cy="3617.9" r="7.5"/><circle cx="659.9" cy="3637.1" r="7.5"/><circle cx="675.3" cy="3667.6" r="7.5"/><circle cx="690.7" cy="3690.8" r="7.5"/><circle cx="706" cy="3703.8" r="7.5"/><circle cx="721.4" cy="3714.1" r="7.5"/><circle cx="736.8" cy="3718.9" r="7.5"/><circle cx="752.1" cy="3723.4" r="7.5"/><circle cx="767.5" cy="3727.6" r="7.5"/><circle cx="782.8" cy="3730.1" r="7.5"/><circle cx="798.2" cy="3729" r="7.5"/><circle cx="813.6" cy="3725.5" r="7.5"/><circle cx="828.9" cy="3720.3" r="7.5"/><circle cx="844.3" cy="3713.1" r="7.5"/><circle cx="859.7" cy="3702.9" r="7.5"/><circle cx="875" cy="3691.3" r="7.5"/><circle cx="890.4" cy="3679.6" r="7.5"/><circle cx="905.8" cy="3668.1" r="7.5"/><circle cx="921.1" cy="3657.7" r="7.5"/><circle cx="936.5" cy="3648.4" r="7.5"/><circle cx="951.9" cy="3640.4" r="7.5"/><circle cx="967.2" cy="3634" r="7.5"/><circle cx="982.6" cy="3629.3" r="7.5"/><circle cx="998" cy="3626.7" r="7.5"/><circle cx="1013.3" cy="3626.8" r="7.5"/><circle cx="1028.7" cy="3628.8" r="7.5"/><circle cx="1044.1" cy="3631.6" r="7.5"/><circle cx="1059.4" cy="3636.6" r="7.5"/><circle cx="1074.8" cy="3645.6" r="7.5"/><circle cx="1090.2" cy="3655.7" r="7.5"/><circle cx="1105.5" cy="3662.4" r="7.5"/><circle cx="1120.9" cy="3668.6" r="7.5"/><circle cx="1136.2" cy="3675.3" r="7.5"/><circle cx="1151.6" cy="3678.3" r="7.5"/><circle cx="1167" cy="3680.5" r="7.5"/><circle cx="1182.3" cy="3683.2" r="7.5"/><circle cx="1197.7" cy="3685.1" r="7.5"/><circle cx="1213.1" cy="3685.8" r="7.5"/><circle cx="1228.4" cy="3685.9" r="7.5"/><circle cx="1243.8" cy="3685.7" r="7.5"/><circle cx="1259.2" cy="3684.9" r="7.5"/><circle cx="1274.5" cy="3683.1" r="7.5"/><circle cx="1289.9" cy="3680.3" r="7.5"/><circle cx="1305.3" cy="3677" r="7.5"/><circle cx="1320.6" cy="3673.8" r="7.5"/><circle cx="1336" cy="3670.9" r="7.5"/><circle cx="1351.4" cy="3668.1" r="7.5"/><circle cx="1366.7" cy="3665.5" r="7.5"/><circle cx="1382.1" cy="3663.1" r="7.5"/><circle cx="1397.4" cy="3661.4" r="7.5"/><circle cx="1412.8" cy="3660.3" r="7.5"/><circle cx="1428.2" cy="3659.3" r="7.5"/><circle cx="1443.5" cy="3658.5" r="7.5"/><circle cx="1458.9" cy="3657.8" r="7.5"/><circle cx="1474.3" cy="3657.2" r="7.5"/><circle cx="1489.6" cy="3656.7" r="7.5"/><circle cx="1505" cy="3656.3" r="7.5"/><circle cx="1520.4" cy="3656" r="7.5"/><circle cx="1535.7" cy="3655.8" r="7.5"/><circle cx="1551.1" cy="3655.7" r="7.5"/><circle cx="1566.5" cy="3655.7" r="7.5"/><circle cx="1581.8" cy="3655.8" r="7.5"/><circle cx="1597.2" cy="3655.9" r="7.5"/><circle cx="1612.6" cy="3656" r="7.5"/><circle cx="1627.9" cy="3656.2" r="7.5"/><circle cx="1643.3" cy="3656.4" r="7.5"/><circle cx="1658.7" cy="3656.6" r="7.5"/><circle cx="1674" cy="3656.8" r="7.5"/><circle cx="1689.4" cy="3657" r="7.5"/><circle cx="1704.8" cy="3657.2" r="7.5"/><circle cx="1720.1" cy="3657.5" r="7.5"/><circle cx="1735.5" cy="3657.8" r="7.5"/><circle cx="1750.8" cy="3658" r="7.5"/><circle cx="1766.2" cy="3658.4" r="7.5"/><circle cx="1781.6" cy="3658.7" r="7.5"/><circle cx="1796.9" cy="3659" r="7.5"/><circle cx="1812.3" cy="3659.4" r="7.5"/><circle cx="1827.7" cy="3659.7" r="7.5"/><circle cx="1843" cy="3660" r="7.5"/><circle cx="1858.4" cy="3660.3" r="7.5"/></g>
<polyline points="414.1,3650.5 429.5,3591.1 444.8,3613.3 460.2,3625.7 475.5,3664 490.9,3739.9 506.3,3802 521.6,3819.5 537,3742.5 552.4,3677.4 567.7,3677.4 583.1,3697 598.5,3739.9 613.8,3727.5 629.2,3717.2 644.6,3699.6 659.9,3681.5 675.3,3684.6 690.7,3673.8 706,3670.7 721.4,3669.1 736.8,3670.7 752.1,3673.3 767.5,3673.8 782.8,3673.8 798.2,3673.6 813.6,3673.3 828.9,3673.1 844.3,3672.7 859.7,3671.9 875,3670.2 890.4,3666.8 905.8,3662.4 921.1,3656.6 936.5,3651 951.9,3647.9 967.2,3645.9 982.6,3644.3 998,3643.3 1013.3,3642.4 1028.7,3641.7 1044.1,3641.2 1059.4,3640.6 1074.8,3640.2 1090.2,3640.2 1105.5,3640.5 1120.9,3641 1136.2,3641.7 1151.6,3642.5 1167,3643.3 1182.3,3644 1197.7,3644.8 1213.1,3645.7 1228.4,3646.5 1243.8,3647.4 1259.2,3648.5 1274.5,3649.5 1289.9,3650 1305.3,3650.4 1320.6,3650.5 1336,3650.3 1351.4,3649.9 1366.7,3649.4 1382.1,3648.9 1397.4,3648.4 1412.8,3648 1428.2,3647.5 1443.5,3647.1 1458.9,3646.7 1474.3,3646.4 1489.6,3646.2 1505,3646.1 1520.4,3646.2 1535.7,3646.2 1551.1,3646.4 1566.5,3646.6 1581.8,3646.8 1597.2,3647 1612.6,3647.2 1627.9,3647.5 1643.3,3647.8 1658.7,3648.1 1674,3648.3 1689.4,3648.7 1704.8,3649 1720.1,3649.3 1735.5,3649.6 1750.8,3650 1766.2,3650.3 1781.6,3650.7 1796.9,3651.1 1812.3,3651.5 1827.7,3651.8 1843,3652.2 1858.4,3652.6" fill="none" stroke="#ff00ff" stroke-width="3.6"/>
<g fill="#ff00ff"><circle cx="414.1" cy="3650.5" r="7.5"/><circle cx="429.5" cy="3591.1" r="7.5"/><circle cx="444.8" cy="3613.3" r="7.5"/><circle cx="460.2" cy="3625.7" r="7.5"/><circle cx="475.5" cy="3664" r="7.5"/><circle cx="490.9" cy="3739.9" r="7.5"/><circle cx="506.3" cy="3802" r="7.5"/><circle cx="521.6" cy="3819.5" r="7.5"/><circle cx="537" cy="3742.5" r="7.5"/><circle cx="552.4" cy="3677.4" r="7.5"/><circle cx="567.7" cy="3677.4" r="7.5"/><circle cx="583.1" cy="3697" r="7.5"/><circle cx="598.5" cy="3739.9" r="7.5"/><circle cx="613.8" cy="3727.5" r="7.5"/><circle cx="629.2" cy="3717.2" r="7.5"/><circle cx="644.6" cy="3699.6" r="7.5"/><circle cx="659.9" cy="3681.5" r="7.5"/><circle cx="675.3" cy="3684.6" r="7.5"/><circle cx="690.7" cy="3673.8" r="7.5"/><circle cx="706" cy="3670.7" r="7.5"/><circle cx="721.4" cy="3669.1" r="7.5"/><circle cx="736.8" cy="3670.7" r="7.5"/><circle cx="752.1" cy="3673.3" r="7.5"/><circle cx="767.5" cy="3673.8" r="7.5"/><circle cx="782.8" cy="3673.8" r="7.5"/><circle cx="798.2" cy="3673.6" r="7.5"/><circle cx="813.6" cy="3673.3" r="7.5"/><circle cx="828.9" cy="3673.1" r="7.5"/><circle cx="844.3" cy="3672.7" r="7.5"/><circle cx="859.7" cy="3671.9" r="7.5"/><circle cx="875" cy="3670.2" r="7.5"/><circle cx="890.4" cy="3666.8" r="7.5"/><circle cx="905.8" cy="3662.4" r="7.5"/><circle cx="921.1" cy="3656.6" r="7.5"/><circle cx="936.5" cy="3651" r="7.5"/><circle cx="951.9" cy="3647.9" r="7.5"/><circle cx="967.2" cy="3645.9" r="7.5"/><circle cx="982.6" cy="3644.3" r="7.5"/><circle cx="998" cy="3643.3" r="7.5"/><circle cx="1013.3" cy="3642.4" r="7.5"/><circle cx="1028.7" cy="3641.7" r="7.5"/><circle cx="1044.1" cy="3641.2" r="7.5"/><circle cx="1059.4" cy="3640.6" r="7.5"/><circle cx="1074.8" cy="3640.2" r="7.5"/><circle cx="1090.2" cy="3640.2" r="7.5"/><circle cx="1105.5" cy="3640.5" r="7.5"/><circle cx="1120.9" cy="3641" r="7.5"/><circle cx="1136.2" cy="3641.7" r="7.5"/><circle cx="1151.6" cy="3642.5" r="7.5"/><circle cx="1167" cy="3643.3" r="7.5"/><circle cx="1182.3" cy="3644" r="7.5"/><circle cx="1197.7" cy="3644.8" r="7.5"/><circle cx="1213.1" cy="3645.7" r="7.5"/><circle cx="1228.4" cy="3646.5" r="7.5"/><circle cx="1243.8" cy="3647.4" r="7.5"/><circle cx="1259.2" cy="3648.5" r="7.5"/><circle cx="1274.5" cy="3649.5" r="7.5"/><circle cx="1289.9" cy="3650" r="7.5"/><circle cx="1305.3" cy="3650.4" r="7.5"/><circle cx="1320.6" cy="3650.5" r="7.5"/><circle cx="1336" cy="3650.3" r="7.5"/><circle cx="1351.4" cy="3649.9" r="7.5"/><circle cx="1366.7" cy="3649.4" r="7.5"/><circle cx="1382.1" cy="3648.9" r="7.5"/><circle cx="1397.4" cy="3648.4" r="7.5"/><circle cx="1412.8" cy="3648" r="7.5"/><circle cx="1428.2" cy="3647.5" r="7.5"/><circle cx="1443.5" cy="3647.1" r="7.5"/><circle cx="1458.9" cy="3646.7" r="7.5"/><circle cx="1474.3" cy="3646.4" r="7.5"/><circle cx="1489.6" cy="3646.2" r="7.5"/><circle cx="1505" cy="3646.1" r="7.5"/><circle cx="1520.4" cy="3646.2" r="7.5"/><circle cx="1535.7" cy="3646.2" r="7.5"/><circle cx="1551.1" cy="3646.4" r="7.5"/><circle cx="1566.5" cy="3646.6" r="7.5"/><circle cx="1581.8" cy="3646.8" r="7.5"/><circle cx="1597.2" cy="3647" r="7.5"/><circle cx="1612.6" cy="3647.2" r="7.5"/><circle cx="1627.9" cy="3647.5" r="7.5"/><circle cx="1643.3" cy="3647.8" r="7.5"/><circle cx="1658.7" cy="3648.1" r="7.5"/><circle cx="1674" cy="3648.3" r="7.5"/><circle cx="1689.4" cy="3648.7" r="7.5"/><circle cx="1704.8" cy="3649" r="7.5"/><circle cx="1720.1" cy="3649.3" r="7.5"/><circle cx="1735.5" cy="3649.6" r="7.5"/><circle cx="1750.8" cy="3650" r="7.5"/><circle cx="1766.2" cy="3650.3" r="7.5"/><circle cx="1781.6" cy="3650.7" r="7.5"/><circle cx="1796.9" cy="3651.1" r="7.5"/><circle cx="1812.3" cy="3651.5" r="7.5"/><circle cx="1827.7" cy="3651.8" r="7.5"/><circle cx="1843" cy="3652.2" r="7.5"/><circle cx="1858.4" cy="3652.6" r="7.5"/></g>
<polyline points="414.1,3531.1 429.5,3510.9 444.8,3596.8 460.2,3571.9 475.5,3502.7 490.9,3507.8 506.3,3514.6 521.6,3517.7 537,3485.6 552.4,3458.2 567.7,3463.4 583.1,3496 598.5,3557 613.8,3579.2 629.2,3617.9 644.6,3631.4 659.9,3642.2 675.3,3659.3 690.7,3677.9 706,3687.2 721.4,3695 736.8,3702.2 752.1,3706.3 767.5,3707.1 782.8,3706.9 798.2,3706 813.6,3704.3 828.9,3701.4 844.3,3698.1 859.7,3694.7 875,3691.3 890.4,3688 905.8,3685.1 921.1,3683.8 936.5,3683.1 951.9,3682.1 967.2,3681.5 982.6,3683.1 998,3686.4 1013.3,3690.3 1028.7,3694.9 1044.1,3699.6 1059.4,3704.3 1074.8,3708.4 1090.2,3711.4 1105.5,3713.6 1120.9,3715.2 1136.2,3716.2 1151.6,3716.6 1167,3716.8 1182.3,3716.7 1197.7,3716 1213.1,3714.6 1228.4,3712.6 1243.8,3710 1259.2,3706.2 1274.5,3702.2 1289.9,3698.6 1305.3,3695.2 1320.6,3691.9 1336,3688.7 1351.4,3685.7 1366.7,3683.1 1382.1,3680.9 1397.4,3679.5 1412.8,3678.3 1428.2,3677.3 1443.5,3676.4 1458.9,3675.6 1474.3,3674.8 1489.6,3674.1 1505,3673.6 1520.4,3673.1 1535.7,3672.6 1551.1,3672.2 1566.5,3671.8 1581.8,3671.5 1597.2,3671.1 1612.6,3670.8 1627.9,3670.5 1643.3,3670.2 1658.7,3669.9 1674,3669.6 1689.4,3669.4 1704.8,3669.1 1720.1,3668.9 1735.5,3668.7 1750.8,3668.5 1766.2,3668.4 1781.6,3668.2 1796.9,3668.1 1812.3,3668 1827.7,3667.9 1843,3667.7 1858.4,3667.6" fill="none" stroke="#008000" stroke-width="3.6"/>
<g fill="#008000"><circle cx="414.1" cy="3531.1" r="7.5"/><circle cx="429.5" cy="3510.9" r="7.5"/><circle cx="444.8" cy="3596.8" r="7.5"/><circle cx="460.2" cy="3571.9" r="7.5"/><circle cx="475.5" cy="3502.7" r="7.5"/><circle cx="490.9" cy="3507.8" r="7.5"/><circle cx="506.3" cy="3514.6" r="7.5"/><circle cx="521.6" cy="3517.7" r="7.5"/><circle cx="537" cy="3485.6" r="7.5"/><circle cx="552.4" cy="3458.2" r="7.5"/><circle cx="567.7" cy="3463.4" r="7.5"/><circle cx="583.1" cy="3496" r="7.5"/><circle cx="598.5" cy="3557" r="7.5"/><circle cx="613.8" cy="3579.2" r="7.5"/><circle cx="629.2" cy="3617.9" r="7.5"/><circle cx="644.6" cy="3631.4" r="7.5"/><circle cx="659.9" cy="3642.2" r="7.5"/><circle cx="675.3" cy="3659.3" r="7.5"/><circle cx="690.7" cy="3677.9" r="7.5"/><circle cx="706" cy="3687.2" r="7.5"/><circle cx="721.4" cy="3695" r="7.5"/><circle cx="736.8" cy="3702.2" r="7.5"/><circle cx="752.1" cy="3706.3" r="7.5"/><circle cx="767.5" cy="3707.1" r="7.5"/><circle cx="782.8" cy="3706.9" r="7.5"/><circle cx="798.2" cy="3706" r="7.5"/><circle cx="813.6" cy="3704.3" r="7.5"/><circle cx="828.9" cy="3701.4" r="7.5"/><circle cx="844.3" cy="3698.1" r="7.5"/><circle cx="859.7" cy="3694.7" r="7.5"/><circle cx="875" cy="3691.3" r="7.5"/><circle cx="890.4" cy="3688" r="7.5"/><circle cx="905.8" cy="3685.1" r="7.5"/><circle cx="921.1" cy="3683.8" r="7.5"/><circle cx="936.5" cy="3683.1" r="7.5"/><circle cx="951.9" cy="3682.1" r="7.5"/><circle cx="967.2" cy="3681.5" r="7.5"/><circle cx="982.6" cy="3683.1" r="7.5"/><circle cx="998" cy="3686.4" r="7.5"/><circle cx="1013.3" cy="3690.3" r="7.5"/><circle cx="1028.7" cy="3694.9" r="7.5"/><circle cx="1044.1" cy="3699.6" r="7.5"/><circle cx="1059.4" cy="3704.3" r="7.5"/><circle cx="1074.8" cy="3708.4" r="7.5"/><circle cx="1090.2" cy="3711.4" r="7.5"/><circle cx="1105.5" cy="3713.6" r="7.5"/><circle cx="1120.9" cy="3715.2" r="7.5"/><circle cx="1136.2" cy="3716.2" r="7.5"/><circle cx="1151.6" cy="3716.6" r="7.5"/><circle cx="1167" cy="3716.8" r="7.5"/><circle cx="1182.3" cy="3716.7" r="7.5"/><circle cx="1197.7" cy="3716" r="7.5"/><circle cx="1213.1" cy="3714.6" r="7.5"/><circle cx="1228.4" cy="3712.6" r="7.5"/><circle cx="1243.8" cy="3710" r="7.5"/><circle cx="1259.2" cy="3706.2" r="7.5"/><circle cx="1274.5" cy="3702.2" r="7.5"/><circle cx="1289.9" cy="3698.6" r="7.5"/><circle cx="1305.3" cy="3695.2" r="7.5"/><circle cx="1320.6" cy="3691.9" r="7.5"/><circle cx="1336" cy="3688.7" r="7.5"/><circle cx="1351.4" cy="3685.7" r="7.5"/><circle cx="1366.7" cy="3683.1" r="7.5"/><circle cx="1382.1" cy="3680.9" r="7.5"/><circle cx="1397.4" cy="3679.5" r="7.5"/><circle cx="1412.8" cy="3678.3" r="7.5"/><circle cx="1428.2" cy="3677.3" r="7.5"/><circle cx="1443.5" cy="3676.4" r="7.5"/><circle cx="1458.9" cy="3675.6" r="7.5"/><circle cx="1474.3" cy="3674.8" r="7.5"/><circle cx="1489.6" cy="3674.1" r="7.5"/><circle cx="1505" cy="3673.6" r="7.5"/><circle cx="1520.4" cy="3673.1" r="7.5"/><circle cx="1535.7" cy="3672.6" r="7.5"/><circle cx="1551.1" cy="3672.2" r="7.5"/><circle cx="1566.5" cy="3671.8" r="7.5"/><circle cx="1581.8" cy="3671.5" r="7.5"/><circle cx="1597.2" cy="3671.1" r="7.5"/><circle cx="1612.6" cy="3670.8" r="7.5"/><circle cx="1627.9" cy="3670.5" r="7.5"/><circle cx="1643.3" cy="3670.2" r="7.5"/><circle cx="1658.7" cy="3669.9" r="7.5"/><circle cx="1674" cy="3669.6" r="7.5"/><circle cx="1689.4" cy="3669.4" r="7.5"/><circle cx="1704.8" cy="3669.1" r="7.5"/><circle cx="1720.1" cy="3668.9" r="7.5"/><circle cx="1735.5" cy="3668.7" r="7.5"/><circle cx="1750.8" cy="3668.5" r="7.5"/><circle cx="1766.2" cy="3668.4" r="7.5"/><circle cx="1781.6" cy="3668.2" r="7.5"/><circle cx="1796.9" cy="3668.1" r="7.5"/><circle cx="1812.3" cy="3668" r="7.5"/><circle cx="1827.7" cy="3667.9" r="7.5"/><circle cx="1843" cy="3667.7" r="7.5"/><circle cx="1858.4" cy="3667.6" r="7.5"/></g>
<polyline points="414.1,3662.4 429.5,3712 444.8,3727.5 460.2,3755.4 475.5,3704.3 490.9,3686.2 506.3,3648.4 521.6,3598.3 537,3564.2 552.4,3539.4 567.7,3518.2 583.1,3549.7 598.5,3581.8 613.8,3588 629.2,3606.1 644.6,3620.5 659.9,3642.2 675.3,3670.7 690.7,3692.4 706,3703.8 721.4,3714.1 736.8,3718.9 752.1,3723.4 767.5,3727.6 782.8,3730.1 798.2,3729 813.6,3725.5 828.9,3720.3 844.3,3713.1 859.7,3702.9 875,3691.3 890.4,3679.6 905.8,3668.1 921.1,3657.7 936.5,3648.4 951.9,3640.4 967.2,3634 982.6,3629.3 998,3626.7 1013.3,3627 1028.7,3628.8 1044.1,3630.5 1059.4,3634 1074.8,3641.5 1090.2,3649.5 1105.5,3654.4 1120.9,3658.3 1136.2,3662.2 1151.6,3666 1167,3669.9 1182.3,3673.3 1197.7,3675.2 1213.1,3676.4 1228.4,3676.9 1243.8,3676.9 1259.2,3676.6 1274.5,3675.8 1289.9,3674.4 1305.3,3672.6 1320.6,3670.7 1336,3668.5 1351.4,3666.2 1366.7,3664 1382.1,3661.9 1397.4,3660.3 1412.8,3659.4 1428.2,3658.6 1443.5,3657.9 1458.9,3657.3 1474.3,3656.7 1489.6,3656.2 1505,3655.8 1520.4,3655.4 1535.7,3655.2 1551.1,3655.2 1566.5,3655.2 1581.8,3655.3 1597.2,3655.5 1612.6,3655.7 1627.9,3655.9 1643.3,3656.2 1658.7,3656.4 1674,3656.7 1689.4,3657 1704.8,3657.2 1720.1,3657.5 1735.5,3657.8 1750.8,3658.1 1766.2,3658.4 1781.6,3658.7 1796.9,3659 1812.3,3659.4 1827.7,3659.7 1843,3660 1858.4,3660.3" fill="none" stroke="#000080" stroke-width="3.6"/>
<g fill="#000080"><circle cx="414.1" cy="3662.4" r="7.5"/><circle cx="429.5" cy="3712" r="7.5"/><circle cx="444.8" cy="3727.5" r="7.5"/><circle cx="460.2" cy="3755.4" r="7.5"/><circle cx="475.5" cy="3704.3" r="7.5"/><circle cx="490.9" cy="3686.2" r="7.5"/><circle cx="506.3" cy="3648.4" r="7.5"/><circle cx="521.6" cy="3598.3" r="7.5"/><circle cx="537" cy="3564.2" r="7.5"/><circle cx="552.4" cy="3539.4" r="7.5"/><circle cx="567.7" cy="3518.2" r="7.5"/><circle cx="583.1" cy="3549.7" r="7.5"/><circle cx="598.5" cy="3581.8" r="7.5"/><circle cx="613.8" cy="3588" r="7.5"/><circle cx="629.2" cy="3606.1" r="7.5"/><circle cx="644.6" cy="3620.5" r="7.5"/><circle cx="659.9" cy="3642.2" r="7.5"/><circle cx="675.3" cy="3670.7" r="7.5"/><circle cx="690.7" cy="3692.4" r="7.5"/><circle cx="706" cy="3703.8" r="7.5"/><circle cx="721.4" cy="3714.1" r="7.5"/><circle cx="736.8" cy="3718.9" r="7.5"/><circle cx="752.1" cy="3723.4" r="7.5"/><circle cx="767.5" cy="3727.6" r="7.5"/><circle cx="782.8" cy="3730.1" r="7.5"/><circle cx="798.2" cy="3729" r="7.5"/><circle cx="813.6" cy="3725.5" r="7.5"/><circle cx="828.9" cy="3720.3" r="7.5"/><circle cx="844.3" cy="3713.1" r="7.5"/><circle cx="859.7" cy="3702.9" r="7.5"/><circle cx="875" cy="3691.3" r="7.5"/><circle cx="890.4" cy="3679.6" r="7.5"/><circle cx="905.8" cy="3668.1" r="7.5"/><circle cx="921.1" cy="3657.7" r="7.5"/><circle cx="936.5" cy="3648.4" r="7.5"/><circle cx="951.9" cy="3640.4" r="7.5"/><circle cx="967.2" cy="3634" r="7.5"/><circle cx="982.6" cy="3629.3" r="7.5"/><circle cx="998" cy="3626.7" r="7.5"/><circle cx="1013.3" cy="3627" r="7.5"/><circle cx="1028.7" cy="3628.8" r="7.5"/><circle cx="1044.1" cy="3630.5" r="7.5"/><circle cx="1059.4" cy="3634" r="7.5"/><circle cx="1074.8" cy="3641.5" r="7.5"/><circle cx="1090.2" cy="3649.5" r="7.5"/><circle cx="1105.5" cy="3654.4" r="7.5"/><circle cx="1120.9" cy="3658.3" r="7.5"/><circle cx="1136.2" cy="3662.2" r="7.5"/><circle cx="1151.6" cy="3666" r="7.5"/><circle cx="1167" cy="3669.9" r="7.5"/><circle cx="1182.3" cy="3673.3" r="7.5"/><circle cx="1197.7" cy="3675.2" r="7.5"/><circle cx="1213.1" cy="3676.4" r="7.5"/><circle cx="1228.4" cy="3676.9" r="7.5"/><circle cx="1243.8" cy="3676.9" r="7.5"/><circle cx="1259.2" cy="3676.6" r="7.5"/><circle cx="1274.5" cy="3675.8" r="7.5"/><circle cx="1289.9" cy="3674.4" r="7.5"/><circle cx="1305.3" cy="3672.6" r="7.5"/><circle cx="1320.6" cy="3670.7" r="7.5"/><circle cx="1336" cy="3668.5" r="7.5"/><circle cx="1351.4" cy="3666.2" r="7.5"/><circle cx="1366.7" cy="3664" r="7.5"/><circle cx="1382.1" cy="3661.9" r="7.5"/><circle cx="1397.4" cy="3660.3" r="7.5"/><circle cx="1412.8" cy="3659.4" r="7.5"/><circle cx="1428.2" cy="3658.6" r="7.5"/><circle cx="1443.5" cy="3657.9" r="7.5"/><circle cx="1458.9" cy="3657.3" r="7.5"/><circle cx="1474.3" cy="3656.7" r="7.5"/><circle cx="1489.6" cy="3656.2" r="7.5"/><circle cx="1505" cy="3655.8" r="7.5"/><circle cx="1520.4" cy="3655.4" r="7.5"/><circle cx="1535.7" cy="3655.2" r="7.5"/><circle cx="1551.1" cy="3655.2" r="7.5"/><circle cx="1566.5" cy="3655.2" r="7.5"/><circle cx="1581.8" cy="3655.3" r="7.5"/><circle cx="1597.2" cy="3655.5" r="7.5"/><circle cx="1612.6" cy="3655.7" r="7.5"/><circle cx="1627.9" cy="3655.9" r="7.5"/><circle cx="1643.3" cy="3656.2" r="7.5"/><circle cx="1658.7" cy="3656.4" r="7.5"/><circle cx="1674" cy="3656.7" r="7.5"/><circle cx="1689.4" cy="3657" r="7.5"/><circle cx="1704.8" cy="3657.2" r="7.5"/><circle cx="1720.1" cy="3657.5" r="7.5"/><circle cx="1735.5" cy="3657.8" r="7.5"/><circle cx="1750.8" cy="3658.1" r="7.5"/><circle cx="1766.2" cy="3658.4" r="7.5"/><circle cx="1781.6" cy="3658.7" r="7.5"/><circle cx="1796.9" cy="3659" r="7.5"/><circle cx="1812.3" cy="3659.4" r="7.5"/><circle cx="1827.7" cy="3659.7" r="7.5"/><circle cx="1843" cy="3660" r="7.5"/><circle cx="1858.4" cy="3660.3" r="7.5"/></g>
</g>
<rect x="322" y="91.5" width="1536.5" height="1136" fill="none" stroke="#000" stroke-width="7.2" stroke-linejoin="miter"/>
<line x1="321.7" y1="1227.5" x2="321.7" y2="1253.5" stroke="#000" stroke-width="7.2" stroke-linecap="butt"/>
<line x1="356.6" y1="1227.5" x2="356.6" y2="1253.5" stroke="#000" stroke-width="7.2" stroke-linecap="butt"/>
<line x1="391.6" y1="1227.5" x2="391.6" y2="1253.5" stroke="#000" stroke-width="7.2" stroke-linecap="butt"/>
<line x1="426.5" y1="1227.5" x2="426.5" y2="1253.5" stroke="#000" stroke-width="7.2" stroke-linecap="butt"/>
<line x1="461.4" y1="1227.5" x2="461.4" y2="1253.5" stroke="#000" stroke-width="7.2" stroke-linecap="butt"/>
<line x1="496.4" y1="1227.5" x2="496.4" y2="1253.5" stroke="#000" stroke-width="7.2" stroke-linecap="butt"/>
<line x1="531.3" y1="1227.5" x2="531.3" y2="1274.5" stroke="#000" stroke-width="7.2" stroke-linecap="butt"/>
<line x1="566.2" y1="1227.5" x2="566.2" y2="1253.5" stroke="#000" stroke-width="7.2" stroke-linecap="butt"/>
<line x1="601.1" y1="1227.5" x2="601.1" y2="1253.5" stroke="#000" stroke-width="7.2" stroke-linecap="butt"/>
<line x1="636.1" y1="1227.5" x2="636.1" y2="1253.5" stroke="#000" stroke-width="7.2" stroke-linecap="butt"/>
<line x1="671" y1="1227.5" x2="671" y2="1253.5" stroke="#000" stroke-width="7.2" stroke-linecap="butt"/>
<line x1="705.9" y1="1227.5" x2="705.9" y2="1253.5" stroke="#000" stroke-width="7.2" stroke-linecap="butt"/>
<line x1="740.9" y1="1227.5" x2="740.9" y2="1253.5" stroke="#000" stroke-width="7.2" stroke-linecap="butt"/>
<line x1="775.8" y1="1227.5" x2="775.8" y2="1253.5" stroke="#000" stroke-width="7.2" stroke-linecap="butt"/>
<line x1="810.7" y1="1227.5" x2="810.7" y2="1253.5" stroke="#000" stroke-width="7.2" stroke-linecap="butt"/>
<line x1="845.7" y1="1227.5" x2="845.7" y2="1253.5" stroke="#000" stroke-width="7.2" stroke-linecap="butt"/>
<line x1="880.6" y1="1227.5" x2="880.6" y2="1274.5" stroke="#000" stroke-width="7.2" stroke-linecap="butt"/>
<line x1="915.5" y1="1227.5" x2="915.5" y2="1253.5" stroke="#000" stroke-width="7.2" stroke-linecap="butt"/>
<line x1="950.4" y1="1227.5" x2="950.4" y2="1253.5" stroke="#000" stroke-width="7.2" stroke-linecap="butt"/>
<line x1="985.4" y1="1227.5" x2="985.4" y2="1253.5" stroke="#000" stroke-width="7.2" stroke-linecap="butt"/>
<line x1="1020.3" y1="1227.5" x2="1020.3" y2="1253.5" stroke="#000" stroke-width="7.2" stroke-linecap="butt"/>
<line x1="1055.2" y1="1227.5" x2="1055.2" y2="1253.5" stroke="#000" stroke-width="7.2" stroke-linecap="butt"/>
<line x1="1090.2" y1="1227.5" x2="1090.2" y2="1253.5" stroke="#000" stroke-width="7.2" stroke-linecap="butt"/>
<line x1="1125.1" y1="1227.5" x2="1125.1" y2="1253.5" stroke="#000" stroke-width="7.2" stroke-linecap="butt"/>
<line x1="1160" y1="1227.5" x2="1160" y2="1253.5" stroke="#000" stroke-width="7.2" stroke-linecap="butt"/>
<line x1="1195" y1="1227.5" x2="1195" y2="1253.5" stroke="#000" stroke-width="7.2" stroke-linecap="butt"/>
<line x1="1229.9" y1="1227.5" x2="1229.9" y2="1274.5" stroke="#000" stroke-width="7.2" stroke-linecap="butt"/>
<line x1="1264.8" y1="1227.5" x2="1264.8" y2="1253.5" stroke="#000" stroke-width="7.2" stroke-linecap="butt"/>
<line x1="1299.7" y1="1227.5" x2="1299.7" y2="1253.5" stroke="#000" stroke-width="7.2" stroke-linecap="butt"/>
<line x1="1334.7" y1="1227.5" x2="1334.7" y2="1253.5" stroke="#000" stroke-width="7.2" stroke-linecap="butt"/>
<line x1="1369.6" y1="1227.5" x2="1369.6" y2="1253.5" stroke="#000" stroke-width="7.2" stroke-linecap="butt"/>
<line x1="1404.5" y1="1227.5" x2="1404.5" y2="1253.5" stroke="#000" stroke-width="7.2" stroke-linecap="butt"/>
<line x1="1439.5" y1="1227.5" x2="1439.5" y2="1253.5" stroke="#000" stroke-width="7.2" stroke-linecap="butt"/>
<line x1="1474.4" y1="1227.5" x2="1474.4" y2="1253.5" stroke="#000" stroke-width="7.2" stroke-linecap="butt"/>
<line x1="1509.3" y1="1227.5" x2="1509.3" y2="1253.5" stroke="#000" stroke-width="7.2" stroke-linecap="butt"/>
<line x1="1544.3" y1="1227.5" x2="1544.3" y2="1253.5" stroke="#000" stroke-width="7.2" stroke-linecap="butt"/>
<line x1="1579.2" y1="1227.5" x2="1579.2" y2="1274.5" stroke="#000" stroke-width="7.2" stroke-linecap="butt"/>
<line x1="1614.1" y1="1227.5" x2="1614.1" y2="1253.5" stroke="#000" stroke-width="7.2" stroke-linecap="butt"/>
<line x1="1649" y1="1227.5" x2="1649" y2="1253.5" stroke="#000" stroke-width="7.2" stroke-linecap="butt"/>
<line x1="1684" y1="1227.5" x2="1684" y2="1253.5" stroke="#000" stroke-width="7.2" stroke-linecap="butt"/>
<line x1="1718.9" y1="1227.5" x2="1718.9" y2="1253.5" stroke="#000" stroke-width="7.2" stroke-linecap="butt"/>
<line x1="1753.8" y1="1227.5" x2="1753.8" y2="1253.5" stroke="#000" stroke-width="7.2" stroke-linecap="butt"/>
<line x1="1788.8" y1="1227.5" x2="1788.8" y2="1253.5" stroke="#000" stroke-width="7.2" stroke-linecap="butt"/>
<line x1="1823.7" y1="1227.5" x2="1823.7" y2="1253.5" stroke="#000" stroke-width="7.2" stroke-linecap="butt"/>
<line x1="1858.6" y1="1227.5" x2="1858.6" y2="1253.5" stroke="#000" stroke-width="7.2" stroke-linecap="butt"/>
<line x1="275" y1="1227.5" x2="322" y2="1227.5" stroke="#000" stroke-width="7.2" stroke-linecap="butt"/>
<line x1="296" y1="1184.2" x2="322" y2="1184.2" stroke="#000" stroke-width="7.2" stroke-linecap="butt"/>
<line x1="296" y1="1140.9" x2="322" y2="1140.9" stroke="#000" stroke-width="7.2" stroke-linecap="butt"/>
<line x1="296" y1="1097.5" x2="322" y2="1097.5" stroke="#000" stroke-width="7.2" stroke-linecap="butt"/>
<line x1="296" y1="1054.2" x2="322" y2="1054.2" stroke="#000" stroke-width="7.2" stroke-linecap="butt"/>
<line x1="275" y1="1010.9" x2="322" y2="1010.9" stroke="#000" stroke-width="7.2" stroke-linecap="butt"/>
<line x1="296" y1="967.6" x2="322" y2="967.6" stroke="#000" stroke-width="7.2" stroke-linecap="butt"/>
<line x1="296" y1="924.3" x2="322" y2="924.3" stroke="#000" stroke-width="7.2" stroke-linecap="butt"/>
<line x1="296" y1="880.9" x2="322" y2="880.9" stroke="#000" stroke-width="7.2" stroke-linecap="butt"/>
<line x1="296" y1="837.6" x2="322" y2="837.6" stroke="#000" stroke-width="7.2" stroke-linecap="butt"/>
<line x1="275" y1="794.3" x2="322" y2="794.3" stroke="#000" stroke-width="7.2" stroke-linecap="butt"/>
<line x1="296" y1="751" x2="322" y2="751" stroke="#000" stroke-width="7.2" stroke-linecap="butt"/>
<line x1="296" y1="707.7" x2="322" y2="707.7" stroke="#000" stroke-width="7.2" stroke-linecap="butt"/>
<line x1="296" y1="664.3" x2="322" y2="664.3" stroke="#000" stroke-width="7.2" stroke-linecap="butt"/>
<line x1="296" y1="621" x2="322" y2="621" stroke="#000" stroke-width="7.2" stroke-linecap="butt"/>
<line x1="275" y1="577.7" x2="322" y2="577.7" stroke="#000" stroke-width="7.2" stroke-linecap="butt"/>
<line x1="296" y1="534.4" x2="322" y2="534.4" stroke="#000" stroke-width="7.2" stroke-linecap="butt"/>
<line x1="296" y1="491.1" x2="322" y2="491.1" stroke="#000" stroke-width="7.2" stroke-linecap="butt"/>
<line x1="296" y1="447.7" x2="322" y2="447.7" stroke="#000" stroke-width="7.2" stroke-linecap="butt"/>
<line x1="296" y1="404.4" x2="322" y2="404.4" stroke="#000" stroke-width="7.2" stroke-linecap="butt"/>
<line x1="275" y1="361.1" x2="322" y2="361.1" stroke="#000" stroke-width="7.2" stroke-linecap="butt"/>
<line x1="296" y1="317.8" x2="322" y2="317.8" stroke="#000" stroke-width="7.2" stroke-linecap="butt"/>
<line x1="296" y1="274.5" x2="322" y2="274.5" stroke="#000" stroke-width="7.2" stroke-linecap="butt"/>
<line x1="296" y1="231.1" x2="322" y2="231.1" stroke="#000" stroke-width="7.2" stroke-linecap="butt"/>
<line x1="296" y1="187.8" x2="322" y2="187.8" stroke="#000" stroke-width="7.2" stroke-linecap="butt"/>
<line x1="275" y1="144.5" x2="322" y2="144.5" stroke="#000" stroke-width="7.2" stroke-linecap="butt"/>
<line x1="296" y1="101.2" x2="322" y2="101.2" stroke="#000" stroke-width="7.2" stroke-linecap="butt"/>
<text x="265" y="1253" font-size="84" text-anchor="end" >0</text>
<text x="263" y="1036.4" font-size="84" text-anchor="end" >0.2</text>
<text x="263" y="819.8" font-size="84" text-anchor="end" >0.4</text>
<text x="263" y="603.2" font-size="84" text-anchor="end" >0.6</text>
<text x="263" y="386.6" font-size="84" text-anchor="end" >0.8</text>
<text x="263" y="170" font-size="84" text-anchor="end" >1.0</text>
<text x="531.3" y="1349.5" font-size="84" text-anchor="middle" >3</text>
<text x="877.6" y="1349.5" font-size="84" text-anchor="middle" >4</text>
<text x="1229.9" y="1349.5" font-size="84" text-anchor="middle" >5</text>
<text x="1581.2" y="1349.5" font-size="84" text-anchor="middle" >6</text>
<text transform="translate(890.39 1436.50) scale(0.9896 1.0)" font-size="84">Log MW</text>
<text transform="translate(115.00 889.47) rotate(-90) scale(1.0088 1)" font-size="84">dw/dLogM</text>
<text transform="translate(358.75 177.50) scale(0.9475 1.0030)" font-size="100">A</text>
<rect x="322" y="1489" width="1536.5" height="1135" fill="none" stroke="#000" stroke-width="7.2" stroke-linejoin="miter"/>
<line x1="321.9" y1="2624" x2="321.9" y2="2671.5" stroke="#000" stroke-width="7.2" stroke-linecap="butt"/>
<line x1="337.3" y1="2624" x2="337.3" y2="2650.5" stroke="#000" stroke-width="7.2" stroke-linecap="butt"/>
<line x1="352.6" y1="2624" x2="352.6" y2="2650.5" stroke="#000" stroke-width="7.2" stroke-linecap="butt"/>
<line x1="368" y1="2624" x2="368" y2="2650.5" stroke="#000" stroke-width="7.2" stroke-linecap="butt"/>
<line x1="383.4" y1="2624" x2="383.4" y2="2650.5" stroke="#000" stroke-width="7.2" stroke-linecap="butt"/>
<line x1="398.7" y1="2624" x2="398.7" y2="2650.5" stroke="#000" stroke-width="7.2" stroke-linecap="butt"/>
<line x1="414.1" y1="2624" x2="414.1" y2="2650.5" stroke="#000" stroke-width="7.2" stroke-linecap="butt"/>
<line x1="429.5" y1="2624" x2="429.5" y2="2650.5" stroke="#000" stroke-width="7.2" stroke-linecap="butt"/>
<line x1="444.8" y1="2624" x2="444.8" y2="2650.5" stroke="#000" stroke-width="7.2" stroke-linecap="butt"/>
<line x1="460.2" y1="2624" x2="460.2" y2="2650.5" stroke="#000" stroke-width="7.2" stroke-linecap="butt"/>
<line x1="475.5" y1="2624" x2="475.5" y2="2671.5" stroke="#000" stroke-width="7.2" stroke-linecap="butt"/>
<line x1="490.9" y1="2624" x2="490.9" y2="2650.5" stroke="#000" stroke-width="7.2" stroke-linecap="butt"/>
<line x1="506.3" y1="2624" x2="506.3" y2="2650.5" stroke="#000" stroke-width="7.2" stroke-linecap="butt"/>
<line x1="521.6" y1="2624" x2="521.6" y2="2650.5" stroke="#000" stroke-width="7.2" stroke-linecap="butt"/>
<line x1="537" y1="2624" x2="537" y2="2650.5" stroke="#000" stroke-width="7.2" stroke-linecap="butt"/>
<line x1="552.4" y1="2624" x2="552.4" y2="2650.5" stroke="#000" stroke-width="7.2" stroke-linecap="butt"/>
<line x1="567.7" y1="2624" x2="567.7" y2="2650.5" stroke="#000" stroke-width="7.2" stroke-linecap="butt"/>
<line x1="583.1" y1="2624" x2="583.1" y2="2650.5" stroke="#000" stroke-width="7.2" stroke-linecap="butt"/>
<line x1="598.5" y1="2624" x2="598.5" y2="2650.5" stroke="#000" stroke-width="7.2" stroke-linecap="butt"/>
<line x1="613.8" y1="2624" x2="613.8" y2="2650.5" stroke="#000" stroke-width="7.2" stroke-linecap="butt"/>
<line x1="629.2" y1="2624" x2="629.2" y2="2671.5" stroke="#000" stroke-width="7.2" stroke-linecap="butt"/>
<line x1="644.6" y1="2624" x2="644.6" y2="2650.5" stroke="#000" stroke-width="7.2" stroke-linecap="butt"/>
<line x1="659.9" y1="2624" x2="659.9" y2="2650.5" stroke="#000" stroke-width="7.2" stroke-linecap="butt"/>
<line x1="675.3" y1="2624" x2="675.3" y2="2650.5" stroke="#000" stroke-width="7.2" stroke-linecap="butt"/>
<line x1="690.7" y1="2624" x2="690.7" y2="2650.5" stroke="#000" stroke-width="7.2" stroke-linecap="butt"/>
<line x1="706" y1="2624" x2="706" y2="2650.5" stroke="#000" stroke-width="7.2" stroke-linecap="butt"/>
<line x1="721.4" y1="2624" x2="721.4" y2="2650.5" stroke="#000" stroke-width="7.2" stroke-linecap="butt"/>
<line x1="736.8" y1="2624" x2="736.8" y2="2650.5" stroke="#000" stroke-width="7.2" stroke-linecap="butt"/>
<line x1="752.1" y1="2624" x2="752.1" y2="2650.5" stroke="#000" stroke-width="7.2" stroke-linecap="butt"/>
<line x1="767.5" y1="2624" x2="767.5" y2="2650.5" stroke="#000" stroke-width="7.2" stroke-linecap="butt"/>
<line x1="782.8" y1="2624" x2="782.8" y2="2671.5" stroke="#000" stroke-width="7.2" stroke-linecap="butt"/>
<line x1="798.2" y1="2624" x2="798.2" y2="2650.5" stroke="#000" stroke-width="7.2" stroke-linecap="butt"/>
<line x1="813.6" y1="2624" x2="813.6" y2="2650.5" stroke="#000" stroke-width="7.2" stroke-linecap="butt"/>
<line x1="828.9" y1="2624" x2="828.9" y2="2650.5" stroke="#000" stroke-width="7.2" stroke-linecap="butt"/>
<line x1="844.3" y1="2624" x2="844.3" y2="2650.5" stroke="#000" stroke-width="7.2" stroke-linecap="butt"/>
<line x1="859.7" y1="2624" x2="859.7" y2="2650.5" stroke="#000" stroke-width="7.2" stroke-linecap="butt"/>
<line x1="875" y1="2624" x2="875" y2="2650.5" stroke="#000" stroke-width="7.2" stroke-linecap="butt"/>
<line x1="890.4" y1="2624" x2="890.4" y2="2650.5" stroke="#000" stroke-width="7.2" stroke-linecap="butt"/>
<line x1="905.8" y1="2624" x2="905.8" y2="2650.5" stroke="#000" stroke-width="7.2" stroke-linecap="butt"/>
<line x1="921.1" y1="2624" x2="921.1" y2="2650.5" stroke="#000" stroke-width="7.2" stroke-linecap="butt"/>
<line x1="936.5" y1="2624" x2="936.5" y2="2671.5" stroke="#000" stroke-width="7.2" stroke-linecap="butt"/>
<line x1="951.9" y1="2624" x2="951.9" y2="2650.5" stroke="#000" stroke-width="7.2" stroke-linecap="butt"/>
<line x1="967.2" y1="2624" x2="967.2" y2="2650.5" stroke="#000" stroke-width="7.2" stroke-linecap="butt"/>
<line x1="982.6" y1="2624" x2="982.6" y2="2650.5" stroke="#000" stroke-width="7.2" stroke-linecap="butt"/>
<line x1="998" y1="2624" x2="998" y2="2650.5" stroke="#000" stroke-width="7.2" stroke-linecap="butt"/>
<line x1="1013.3" y1="2624" x2="1013.3" y2="2650.5" stroke="#000" stroke-width="7.2" stroke-linecap="butt"/>
<line x1="1028.7" y1="2624" x2="1028.7" y2="2650.5" stroke="#000" stroke-width="7.2" stroke-linecap="butt"/>
<line x1="1044.1" y1="2624" x2="1044.1" y2="2650.5" stroke="#000" stroke-width="7.2" stroke-linecap="butt"/>
<line x1="1059.4" y1="2624" x2="1059.4" y2="2650.5" stroke="#000" stroke-width="7.2" stroke-linecap="butt"/>
<line x1="1074.8" y1="2624" x2="1074.8" y2="2650.5" stroke="#000" stroke-width="7.2" stroke-linecap="butt"/>
<line x1="1090.2" y1="2624" x2="1090.2" y2="2671.5" stroke="#000" stroke-width="7.2" stroke-linecap="butt"/>
<line x1="1105.5" y1="2624" x2="1105.5" y2="2650.5" stroke="#000" stroke-width="7.2" stroke-linecap="butt"/>
<line x1="1120.9" y1="2624" x2="1120.9" y2="2650.5" stroke="#000" stroke-width="7.2" stroke-linecap="butt"/>
<line x1="1136.2" y1="2624" x2="1136.2" y2="2650.5" stroke="#000" stroke-width="7.2" stroke-linecap="butt"/>
<line x1="1151.6" y1="2624" x2="1151.6" y2="2650.5" stroke="#000" stroke-width="7.2" stroke-linecap="butt"/>
<line x1="1167" y1="2624" x2="1167" y2="2650.5" stroke="#000" stroke-width="7.2" stroke-linecap="butt"/>
<line x1="1182.3" y1="2624" x2="1182.3" y2="2650.5" stroke="#000" stroke-width="7.2" stroke-linecap="butt"/>
<line x1="1197.7" y1="2624" x2="1197.7" y2="2650.5" stroke="#000" stroke-width="7.2" stroke-linecap="butt"/>
<line x1="1213.1" y1="2624" x2="1213.1" y2="2650.5" stroke="#000" stroke-width="7.2" stroke-linecap="butt"/>
<line x1="1228.4" y1="2624" x2="1228.4" y2="2650.5" stroke="#000" stroke-width="7.2" stroke-linecap="butt"/>
<line x1="1243.8" y1="2624" x2="1243.8" y2="2671.5" stroke="#000" stroke-width="7.2" stroke-linecap="butt"/>
<line x1="1259.2" y1="2624" x2="1259.2" y2="2650.5" stroke="#000" stroke-width="7.2" stroke-linecap="butt"/>
<line x1="1274.5" y1="2624" x2="1274.5" y2="2650.5" stroke="#000" stroke-width="7.2" stroke-linecap="butt"/>
<line x1="1289.9" y1="2624" x2="1289.9" y2="2650.5" stroke="#000" stroke-width="7.2" stroke-linecap="butt"/>
<line x1="1305.3" y1="2624" x2="1305.3" y2="2650.5" stroke="#000" stroke-width="7.2" stroke-linecap="butt"/>
<line x1="1320.6" y1="2624" x2="1320.6" y2="2650.5" stroke="#000" stroke-width="7.2" stroke-linecap="butt"/>
<line x1="1336" y1="2624" x2="1336" y2="2650.5" stroke="#000" stroke-width="7.2" stroke-linecap="butt"/>
<line x1="1351.4" y1="2624" x2="1351.4" y2="2650.5" stroke="#000" stroke-width="7.2" stroke-linecap="butt"/>
<line x1="1366.7" y1="2624" x2="1366.7" y2="2650.5" stroke="#000" stroke-width="7.2" stroke-linecap="butt"/>
<line x1="1382.1" y1="2624" x2="1382.1" y2="2650.5" stroke="#000" stroke-width="7.2" stroke-linecap="butt"/>
<line x1="1397.4" y1="2624" x2="1397.4" y2="2671.5" stroke="#000" stroke-width="7.2" stroke-linecap="butt"/>
<line x1="1412.8" y1="2624" x2="1412.8" y2="2650.5" stroke="#000" stroke-width="7.2" stroke-linecap="butt"/>
<line x1="1428.2" y1="2624" x2="1428.2" y2="2650.5" stroke="#000" stroke-width="7.2" stroke-linecap="butt"/>
<line x1="1443.5" y1="2624" x2="1443.5" y2="2650.5" stroke="#000" stroke-width="7.2" stroke-linecap="butt"/>
<line x1="1458.9" y1="2624" x2="1458.9" y2="2650.5" stroke="#000" stroke-width="7.2" stroke-linecap="butt"/>
<line x1="1474.3" y1="2624" x2="1474.3" y2="2650.5" stroke="#000" stroke-width="7.2" stroke-linecap="butt"/>
<line x1="1489.6" y1="2624" x2="1489.6" y2="2650.5" stroke="#000" stroke-width="7.2" stroke-linecap="butt"/>
<line x1="1505" y1="2624" x2="1505" y2="2650.5" stroke="#000" stroke-width="7.2" stroke-linecap="butt"/>
<line x1="1520.4" y1="2624" x2="1520.4" y2="2650.5" stroke="#000" stroke-width="7.2" stroke-linecap="butt"/>
<line x1="1535.7" y1="2624" x2="1535.7" y2="2650.5" stroke="#000" stroke-width="7.2" stroke-linecap="butt"/>
<line x1="1551.1" y1="2624" x2="1551.1" y2="2671.5" stroke="#000" stroke-width="7.2" stroke-linecap="butt"/>
<line x1="1566.5" y1="2624" x2="1566.5" y2="2650.5" stroke="#000" stroke-width="7.2" stroke-linecap="butt"/>
<line x1="1581.8" y1="2624" x2="1581.8" y2="2650.5" stroke="#000" stroke-width="7.2" stroke-linecap="butt"/>
<line x1="1597.2" y1="2624" x2="1597.2" y2="2650.5" stroke="#000" stroke-width="7.2" stroke-linecap="butt"/>
<line x1="1612.6" y1="2624" x2="1612.6" y2="2650.5" stroke="#000" stroke-width="7.2" stroke-linecap="butt"/>
<line x1="1627.9" y1="2624" x2="1627.9" y2="2650.5" stroke="#000" stroke-width="7.2" stroke-linecap="butt"/>
<line x1="1643.3" y1="2624" x2="1643.3" y2="2650.5" stroke="#000" stroke-width="7.2" stroke-linecap="butt"/>
<line x1="1658.7" y1="2624" x2="1658.7" y2="2650.5" stroke="#000" stroke-width="7.2" stroke-linecap="butt"/>
<line x1="1674" y1="2624" x2="1674" y2="2650.5" stroke="#000" stroke-width="7.2" stroke-linecap="butt"/>
<line x1="1689.4" y1="2624" x2="1689.4" y2="2650.5" stroke="#000" stroke-width="7.2" stroke-linecap="butt"/>
<line x1="1704.8" y1="2624" x2="1704.8" y2="2671.5" stroke="#000" stroke-width="7.2" stroke-linecap="butt"/>
<line x1="1720.1" y1="2624" x2="1720.1" y2="2650.5" stroke="#000" stroke-width="7.2" stroke-linecap="butt"/>
<line x1="1735.5" y1="2624" x2="1735.5" y2="2650.5" stroke="#000" stroke-width="7.2" stroke-linecap="butt"/>
<line x1="1750.8" y1="2624" x2="1750.8" y2="2650.5" stroke="#000" stroke-width="7.2" stroke-linecap="butt"/>
<line x1="1766.2" y1="2624" x2="1766.2" y2="2650.5" stroke="#000" stroke-width="7.2" stroke-linecap="butt"/>
<line x1="1781.6" y1="2624" x2="1781.6" y2="2650.5" stroke="#000" stroke-width="7.2" stroke-linecap="butt"/>
<line x1="1796.9" y1="2624" x2="1796.9" y2="2650.5" stroke="#000" stroke-width="7.2" stroke-linecap="butt"/>
<line x1="1812.3" y1="2624" x2="1812.3" y2="2650.5" stroke="#000" stroke-width="7.2" stroke-linecap="butt"/>
<line x1="1827.7" y1="2624" x2="1827.7" y2="2650.5" stroke="#000" stroke-width="7.2" stroke-linecap="butt"/>
<line x1="1843" y1="2624" x2="1843" y2="2650.5" stroke="#000" stroke-width="7.2" stroke-linecap="butt"/>
<line x1="1858.4" y1="2624" x2="1858.4" y2="2671.5" stroke="#000" stroke-width="7.2" stroke-linecap="butt"/>
<line x1="276" y1="2624" x2="322" y2="2624" stroke="#000" stroke-width="7.2" stroke-linecap="butt"/>
<line x1="297" y1="2554.2" x2="322" y2="2554.2" stroke="#000" stroke-width="7.2" stroke-linecap="butt"/>
<line x1="297" y1="2484.3" x2="322" y2="2484.3" stroke="#000" stroke-width="7.2" stroke-linecap="butt"/>
<line x1="297" y1="2414.5" x2="322" y2="2414.5" stroke="#000" stroke-width="7.2" stroke-linecap="butt"/>
<line x1="297" y1="2344.6" x2="322" y2="2344.6" stroke="#000" stroke-width="7.2" stroke-linecap="butt"/>
<line x1="276" y1="2274.8" x2="322" y2="2274.8" stroke="#000" stroke-width="7.2" stroke-linecap="butt"/>
<line x1="297" y1="2205" x2="322" y2="2205" stroke="#000" stroke-width="7.2" stroke-linecap="butt"/>
<line x1="297" y1="2135.1" x2="322" y2="2135.1" stroke="#000" stroke-width="7.2" stroke-linecap="butt"/>
<line x1="297" y1="2065.3" x2="322" y2="2065.3" stroke="#000" stroke-width="7.2" stroke-linecap="butt"/>
<line x1="297" y1="1995.4" x2="322" y2="1995.4" stroke="#000" stroke-width="7.2" stroke-linecap="butt"/>
<line x1="276" y1="1925.6" x2="322" y2="1925.6" stroke="#000" stroke-width="7.2" stroke-linecap="butt"/>
<line x1="297" y1="1855.8" x2="322" y2="1855.8" stroke="#000" stroke-width="7.2" stroke-linecap="butt"/>
<line x1="297" y1="1785.9" x2="322" y2="1785.9" stroke="#000" stroke-width="7.2" stroke-linecap="butt"/>
<line x1="297" y1="1716.1" x2="322" y2="1716.1" stroke="#000" stroke-width="7.2" stroke-linecap="butt"/>
<line x1="297" y1="1646.2" x2="322" y2="1646.2" stroke="#000" stroke-width="7.2" stroke-linecap="butt"/>
<line x1="276" y1="1576.4" x2="322" y2="1576.4" stroke="#000" stroke-width="7.2" stroke-linecap="butt"/>
<line x1="297" y1="1506.6" x2="322" y2="1506.6" stroke="#000" stroke-width="7.2" stroke-linecap="butt"/>
<text x="264.5" y="2652" font-size="84" text-anchor="end" >0</text>
<text x="263" y="2302.8" font-size="84" text-anchor="end" >2</text>
<text x="263" y="1953.6" font-size="84" text-anchor="end" >4</text>
<text x="263" y="1604.4" font-size="84" text-anchor="end" >6</text>
<text x="321.9" y="2744" font-size="84" text-anchor="middle" >0</text>
<text x="475.5" y="2744" font-size="84" text-anchor="middle" >10</text>
<text x="629.2" y="2744" font-size="84" text-anchor="middle" >20</text>
<text x="782.8" y="2744" font-size="84" text-anchor="middle" >30</text>
<text x="936.5" y="2744" font-size="84" text-anchor="middle" >40</text>
<text x="1090.2" y="2744" font-size="84" text-anchor="middle" >50</text>
<text x="1243.8" y="2744" font-size="84" text-anchor="middle" >60</text>
<text x="1397.4" y="2744" font-size="84" text-anchor="middle" >70</text>
<text x="1551.1" y="2744" font-size="84" text-anchor="middle" >80</text>
<text x="1704.8" y="2744" font-size="84" text-anchor="middle" >90</text>
<text transform="translate(559.60 2832.00) scale(0.9927 1.0)" font-size="84">Degree of polymerization (DP)</text>
<text transform="translate(171.40 2454.92) rotate(-90) scale(0.9974 1)" font-size="84">Molar percentage (%)</text>
<text transform="translate(358.26 1587.30) scale(0.9646 1.0091)" font-size="100">B</text>
<rect x="322" y="2887" width="1536.5" height="1137" fill="none" stroke="#000" stroke-width="7.2" stroke-linejoin="miter"/>
<line x1="321.9" y1="4024" x2="321.9" y2="4071.5" stroke="#000" stroke-width="7.2" stroke-linecap="butt"/>
<line x1="337.3" y1="4024" x2="337.3" y2="4050.5" stroke="#000" stroke-width="7.2" stroke-linecap="butt"/>
<line x1="352.6" y1="4024" x2="352.6" y2="4050.5" stroke="#000" stroke-width="7.2" stroke-linecap="butt"/>
<line x1="368" y1="4024" x2="368" y2="4050.5" stroke="#000" stroke-width="7.2" stroke-linecap="butt"/>
<line x1="383.4" y1="4024" x2="383.4" y2="4050.5" stroke="#000" stroke-width="7.2" stroke-linecap="butt"/>
<line x1="398.7" y1="4024" x2="398.7" y2="4050.5" stroke="#000" stroke-width="7.2" stroke-linecap="butt"/>
<line x1="414.1" y1="4024" x2="414.1" y2="4050.5" stroke="#000" stroke-width="7.2" stroke-linecap="butt"/>
<line x1="429.5" y1="4024" x2="429.5" y2="4050.5" stroke="#000" stroke-width="7.2" stroke-linecap="butt"/>
<line x1="444.8" y1="4024" x2="444.8" y2="4050.5" stroke="#000" stroke-width="7.2" stroke-linecap="butt"/>
<line x1="460.2" y1="4024" x2="460.2" y2="4050.5" stroke="#000" stroke-width="7.2" stroke-linecap="butt"/>
<line x1="475.5" y1="4024" x2="475.5" y2="4071.5" stroke="#000" stroke-width="7.2" stroke-linecap="butt"/>
<line x1="490.9" y1="4024" x2="490.9" y2="4050.5" stroke="#000" stroke-width="7.2" stroke-linecap="butt"/>
<line x1="506.3" y1="4024" x2="506.3" y2="4050.5" stroke="#000" stroke-width="7.2" stroke-linecap="butt"/>
<line x1="521.6" y1="4024" x2="521.6" y2="4050.5" stroke="#000" stroke-width="7.2" stroke-linecap="butt"/>
<line x1="537" y1="4024" x2="537" y2="4050.5" stroke="#000" stroke-width="7.2" stroke-linecap="butt"/>
<line x1="552.4" y1="4024" x2="552.4" y2="4050.5" stroke="#000" stroke-width="7.2" stroke-linecap="butt"/>
<line x1="567.7" y1="4024" x2="567.7" y2="4050.5" stroke="#000" stroke-width="7.2" stroke-linecap="butt"/>
<line x1="583.1" y1="4024" x2="583.1" y2="4050.5" stroke="#000" stroke-width="7.2" stroke-linecap="butt"/>
<line x1="598.5" y1="4024" x2="598.5" y2="4050.5" stroke="#000" stroke-width="7.2" stroke-linecap="butt"/>
<line x1="613.8" y1="4024" x2="613.8" y2="4050.5" stroke="#000" stroke-width="7.2" stroke-linecap="butt"/>
<line x1="629.2" y1="4024" x2="629.2" y2="4071.5" stroke="#000" stroke-width="7.2" stroke-linecap="butt"/>
<line x1="644.6" y1="4024" x2="644.6" y2="4050.5" stroke="#000" stroke-width="7.2" stroke-linecap="butt"/>
<line x1="659.9" y1="4024" x2="659.9" y2="4050.5" stroke="#000" stroke-width="7.2" stroke-linecap="butt"/>
<line x1="675.3" y1="4024" x2="675.3" y2="4050.5" stroke="#000" stroke-width="7.2" stroke-linecap="butt"/>
<line x1="690.7" y1="4024" x2="690.7" y2="4050.5" stroke="#000" stroke-width="7.2" stroke-linecap="butt"/>
<line x1="706" y1="4024" x2="706" y2="4050.5" stroke="#000" stroke-width="7.2" stroke-linecap="butt"/>
<line x1="721.4" y1="4024" x2="721.4" y2="4050.5" stroke="#000" stroke-width="7.2" stroke-linecap="butt"/>
<line x1="736.8" y1="4024" x2="736.8" y2="4050.5" stroke="#000" stroke-width="7.2" stroke-linecap="butt"/>
<line x1="752.1" y1="4024" x2="752.1" y2="4050.5" stroke="#000" stroke-width="7.2" stroke-linecap="butt"/>
<line x1="767.5" y1="4024" x2="767.5" y2="4050.5" stroke="#000" stroke-width="7.2" stroke-linecap="butt"/>
<line x1="782.8" y1="4024" x2="782.8" y2="4071.5" stroke="#000" stroke-width="7.2" stroke-linecap="butt"/>
<line x1="798.2" y1="4024" x2="798.2" y2="4050.5" stroke="#000" stroke-width="7.2" stroke-linecap="butt"/>
<line x1="813.6" y1="4024" x2="813.6" y2="4050.5" stroke="#000" stroke-width="7.2" stroke-linecap="butt"/>
<line x1="828.9" y1="4024" x2="828.9" y2="4050.5" stroke="#000" stroke-width="7.2" stroke-linecap="butt"/>
<line x1="844.3" y1="4024" x2="844.3" y2="4050.5" stroke="#000" stroke-width="7.2" stroke-linecap="butt"/>
<line x1="859.7" y1="4024" x2="859.7" y2="4050.5" stroke="#000" stroke-width="7.2" stroke-linecap="butt"/>
<line x1="875" y1="4024" x2="875" y2="4050.5" stroke="#000" stroke-width="7.2" stroke-linecap="butt"/>
<line x1="890.4" y1="4024" x2="890.4" y2="4050.5" stroke="#000" stroke-width="7.2" stroke-linecap="butt"/>
<line x1="905.8" y1="4024" x2="905.8" y2="4050.5" stroke="#000" stroke-width="7.2" stroke-linecap="butt"/>
<line x1="921.1" y1="4024" x2="921.1" y2="4050.5" stroke="#000" stroke-width="7.2" stroke-linecap="butt"/>
<line x1="936.5" y1="4024" x2="936.5" y2="4071.5" stroke="#000" stroke-width="7.2" stroke-linecap="butt"/>
<line x1="951.9" y1="4024" x2="951.9" y2="4050.5" stroke="#000" stroke-width="7.2" stroke-linecap="butt"/>
<line x1="967.2" y1="4024" x2="967.2" y2="4050.5" stroke="#000" stroke-width="7.2" stroke-linecap="butt"/>
<line x1="982.6" y1="4024" x2="982.6" y2="4050.5" stroke="#000" stroke-width="7.2" stroke-linecap="butt"/>
<line x1="998" y1="4024" x2="998" y2="4050.5" stroke="#000" stroke-width="7.2" stroke-linecap="butt"/>
<line x1="1013.3" y1="4024" x2="1013.3" y2="4050.5" stroke="#000" stroke-width="7.2" stroke-linecap="butt"/>
<line x1="1028.7" y1="4024" x2="1028.7" y2="4050.5" stroke="#000" stroke-width="7.2" stroke-linecap="butt"/>
<line x1="1044.1" y1="4024" x2="1044.1" y2="4050.5" stroke="#000" stroke-width="7.2" stroke-linecap="butt"/>
<line x1="1059.4" y1="4024" x2="1059.4" y2="4050.5" stroke="#000" stroke-width="7.2" stroke-linecap="butt"/>
<line x1="1074.8" y1="4024" x2="1074.8" y2="4050.5" stroke="#000" stroke-width="7.2" stroke-linecap="butt"/>
<line x1="1090.2" y1="4024" x2="1090.2" y2="4071.5" stroke="#000" stroke-width="7.2" stroke-linecap="butt"/>
<line x1="1105.5" y1="4024" x2="1105.5" y2="4050.5" stroke="#000" stroke-width="7.2" stroke-linecap="butt"/>
<line x1="1120.9" y1="4024" x2="1120.9" y2="4050.5" stroke="#000" stroke-width="7.2" stroke-linecap="butt"/>
<line x1="1136.2" y1="4024" x2="1136.2" y2="4050.5" stroke="#000" stroke-width="7.2" stroke-linecap="butt"/>
<line x1="1151.6" y1="4024" x2="1151.6" y2="4050.5" stroke="#000" stroke-width="7.2" stroke-linecap="butt"/>
<line x1="1167" y1="4024" x2="1167" y2="4050.5" stroke="#000" stroke-width="7.2" stroke-linecap="butt"/>
<line x1="1182.3" y1="4024" x2="1182.3" y2="4050.5" stroke="#000" stroke-width="7.2" stroke-linecap="butt"/>
<line x1="1197.7" y1="4024" x2="1197.7" y2="4050.5" stroke="#000" stroke-width="7.2" stroke-linecap="butt"/>
<line x1="1213.1" y1="4024" x2="1213.1" y2="4050.5" stroke="#000" stroke-width="7.2" stroke-linecap="butt"/>
<line x1="1228.4" y1="4024" x2="1228.4" y2="4050.5" stroke="#000" stroke-width="7.2" stroke-linecap="butt"/>
<line x1="1243.8" y1="4024" x2="1243.8" y2="4071.5" stroke="#000" stroke-width="7.2" stroke-linecap="butt"/>
<line x1="1259.2" y1="4024" x2="1259.2" y2="4050.5" stroke="#000" stroke-width="7.2" stroke-linecap="butt"/>
<line x1="1274.5" y1="4024" x2="1274.5" y2="4050.5" stroke="#000" stroke-width="7.2" stroke-linecap="butt"/>
<line x1="1289.9" y1="4024" x2="1289.9" y2="4050.5" stroke="#000" stroke-width="7.2" stroke-linecap="butt"/>
<line x1="1305.3" y1="4024" x2="1305.3" y2="4050.5" stroke="#000" stroke-width="7.2" stroke-linecap="butt"/>
<line x1="1320.6" y1="4024" x2="1320.6" y2="4050.5" stroke="#000" stroke-width="7.2" stroke-linecap="butt"/>
<line x1="1336" y1="4024" x2="1336" y2="4050.5" stroke="#000" stroke-width="7.2" stroke-linecap="butt"/>
<line x1="1351.4" y1="4024" x2="1351.4" y2="4050.5" stroke="#000" stroke-width="7.2" stroke-linecap="butt"/>
<line x1="1366.7" y1="4024" x2="1366.7" y2="4050.5" stroke="#000" stroke-width="7.2" stroke-linecap="butt"/>
<line x1="1382.1" y1="4024" x2="1382.1" y2="4050.5" stroke="#000" stroke-width="7.2" stroke-linecap="butt"/>
<line x1="1397.4" y1="4024" x2="1397.4" y2="4071.5" stroke="#000" stroke-width="7.2" stroke-linecap="butt"/>
<line x1="1412.8" y1="4024" x2="1412.8" y2="4050.5" stroke="#000" stroke-width="7.2" stroke-linecap="butt"/>
<line x1="1428.2" y1="4024" x2="1428.2" y2="4050.5" stroke="#000" stroke-width="7.2" stroke-linecap="butt"/>
<line x1="1443.5" y1="4024" x2="1443.5" y2="4050.5" stroke="#000" stroke-width="7.2" stroke-linecap="butt"/>
<line x1="1458.9" y1="4024" x2="1458.9" y2="4050.5" stroke="#000" stroke-width="7.2" stroke-linecap="butt"/>
<line x1="1474.3" y1="4024" x2="1474.3" y2="4050.5" stroke="#000" stroke-width="7.2" stroke-linecap="butt"/>
<line x1="1489.6" y1="4024" x2="1489.6" y2="4050.5" stroke="#000" stroke-width="7.2" stroke-linecap="butt"/>
<line x1="1505" y1="4024" x2="1505" y2="4050.5" stroke="#000" stroke-width="7.2" stroke-linecap="butt"/>
<line x1="1520.4" y1="4024" x2="1520.4" y2="4050.5" stroke="#000" stroke-width="7.2" stroke-linecap="butt"/>
<line x1="1535.7" y1="4024" x2="1535.7" y2="4050.5" stroke="#000" stroke-width="7.2" stroke-linecap="butt"/>
<line x1="1551.1" y1="4024" x2="1551.1" y2="4071.5" stroke="#000" stroke-width="7.2" stroke-linecap="butt"/>
<line x1="1566.5" y1="4024" x2="1566.5" y2="4050.5" stroke="#000" stroke-width="7.2" stroke-linecap="butt"/>
<line x1="1581.8" y1="4024" x2="1581.8" y2="4050.5" stroke="#000" stroke-width="7.2" stroke-linecap="butt"/>
<line x1="1597.2" y1="4024" x2="1597.2" y2="4050.5" stroke="#000" stroke-width="7.2" stroke-linecap="butt"/>
<line x1="1612.6" y1="4024" x2="1612.6" y2="4050.5" stroke="#000" stroke-width="7.2" stroke-linecap="butt"/>
<line x1="1627.9" y1="4024" x2="1627.9" y2="4050.5" stroke="#000" stroke-width="7.2" stroke-linecap="butt"/>
<line x1="1643.3" y1="4024" x2="1643.3" y2="4050.5" stroke="#000" stroke-width="7.2" stroke-linecap="butt"/>
<line x1="1658.7" y1="4024" x2="1658.7" y2="4050.5" stroke="#000" stroke-width="7.2" stroke-linecap="butt"/>
<line x1="1674" y1="4024" x2="1674" y2="4050.5" stroke="#000" stroke-width="7.2" stroke-linecap="butt"/>
<line x1="1689.4" y1="4024" x2="1689.4" y2="4050.5" stroke="#000" stroke-width="7.2" stroke-linecap="butt"/>
<line x1="1704.8" y1="4024" x2="1704.8" y2="4071.5" stroke="#000" stroke-width="7.2" stroke-linecap="butt"/>
<line x1="1720.1" y1="4024" x2="1720.1" y2="4050.5" stroke="#000" stroke-width="7.2" stroke-linecap="butt"/>
<line x1="1735.5" y1="4024" x2="1735.5" y2="4050.5" stroke="#000" stroke-width="7.2" stroke-linecap="butt"/>
<line x1="1750.8" y1="4024" x2="1750.8" y2="4050.5" stroke="#000" stroke-width="7.2" stroke-linecap="butt"/>
<line x1="1766.2" y1="4024" x2="1766.2" y2="4050.5" stroke="#000" stroke-width="7.2" stroke-linecap="butt"/>
<line x1="1781.6" y1="4024" x2="1781.6" y2="4050.5" stroke="#000" stroke-width="7.2" stroke-linecap="butt"/>
<line x1="1796.9" y1="4024" x2="1796.9" y2="4050.5" stroke="#000" stroke-width="7.2" stroke-linecap="butt"/>
<line x1="1812.3" y1="4024" x2="1812.3" y2="4050.5" stroke="#000" stroke-width="7.2" stroke-linecap="butt"/>
<line x1="1827.7" y1="4024" x2="1827.7" y2="4050.5" stroke="#000" stroke-width="7.2" stroke-linecap="butt"/>
<line x1="1843" y1="4024" x2="1843" y2="4050.5" stroke="#000" stroke-width="7.2" stroke-linecap="butt"/>
<line x1="1858.4" y1="4024" x2="1858.4" y2="4071.5" stroke="#000" stroke-width="7.2" stroke-linecap="butt"/>
<line x1="297" y1="3972.5" x2="322" y2="3972.5" stroke="#000" stroke-width="7.2" stroke-linecap="butt"/>
<line x1="297" y1="3817.5" x2="322" y2="3817.5" stroke="#000" stroke-width="7.2" stroke-linecap="butt"/>
<line x1="275" y1="3662.4" x2="322" y2="3662.4" stroke="#000" stroke-width="7.2" stroke-linecap="butt"/>
<line x1="297" y1="3507.3" x2="322" y2="3507.3" stroke="#000" stroke-width="7.2" stroke-linecap="butt"/>
<line x1="297" y1="3352.3" x2="322" y2="3352.3" stroke="#000" stroke-width="7.2" stroke-linecap="butt"/>
<line x1="297" y1="3197.2" x2="322" y2="3197.2" stroke="#000" stroke-width="7.2" stroke-linecap="butt"/>
<line x1="297" y1="3042.1" x2="322" y2="3042.1" stroke="#000" stroke-width="7.2" stroke-linecap="butt"/>
<line x1="297" y1="2887.1" x2="322" y2="2887.1" stroke="#000" stroke-width="7.2" stroke-linecap="butt"/>
<text x="287" y="3999" font-size="84" text-anchor="end" >−0.6</text>
<text x="287" y="3844" font-size="84" text-anchor="end" >−0.3</text>
<text x="268.5" y="3688.9" font-size="84" text-anchor="end" >0</text>
<text x="287" y="3533.8" font-size="84" text-anchor="end" >0.3</text>
<text x="287" y="3378.8" font-size="84" text-anchor="end" >0.6</text>
<text x="287" y="3223.7" font-size="84" text-anchor="end" >0.9</text>
<text x="287" y="3068.6" font-size="84" text-anchor="end" >1.2</text>
<text x="321.9" y="4141" font-size="84" text-anchor="middle" >0</text>
<text x="475.5" y="4141" font-size="84" text-anchor="middle" >10</text>
<text x="629.2" y="4141" font-size="84" text-anchor="middle" >20</text>
<text x="782.8" y="4141" font-size="84" text-anchor="middle" >30</text>
<text x="936.5" y="4141" font-size="84" text-anchor="middle" >40</text>
<text x="1090.2" y="4141" font-size="84" text-anchor="middle" >50</text>
<text x="1243.8" y="4141" font-size="84" text-anchor="middle" >60</text>
<text x="1397.4" y="4141" font-size="84" text-anchor="middle" >70</text>
<text x="1551.1" y="4141" font-size="84" text-anchor="middle" >80</text>
<text x="1704.8" y="4141" font-size="84" text-anchor="middle" >90</text>
<text transform="translate(561.30 4228.40) scale(0.9914 1.0)" font-size="84">Degree of polymerization (DP)</text>
<text transform="translate(95.30 4062.23) rotate(-90) scale(1.0017 1)" font-size="84">Molar percentage difference (%)</text>
<text transform="translate(353.65 2985.56) scale(1.0921 1.0357)" font-size="100">C</text>
<line x1="1436.2" y1="220.5" x2="1563.3" y2="220.5" stroke="#9000ff" stroke-width="4.6" stroke-linecap="butt"/>
<text transform="translate(1589.69 241.50) scale(0.9280 1.0)" font-size="64">Kokei 14</text>
<line x1="1436.2" y1="320.8" x2="1563.3" y2="320.8" stroke="#000080" stroke-width="4.6" stroke-linecap="butt"/>
<text transform="translate(1584.33 341.75) scale(0.9651 1.0)" font-size="64">SY19</text>
<line x1="1436.2" y1="421" x2="1563.3" y2="421" stroke="#008000" stroke-width="4.6" stroke-linecap="butt"/>
<text transform="translate(1585.17 442.00) scale(0.9818 1.0)" font-size="64">SY4</text>
<line x1="1436.2" y1="521.2" x2="1563.3" y2="521.2" stroke="#ff00ff" stroke-width="4.6" stroke-linecap="butt"/>
<text transform="translate(1586.18 542.25) scale(0.9789 1.0)" font-size="64">SY175</text>
<line x1="1436.2" y1="621.5" x2="1563.3" y2="621.5" stroke="#0000ff" stroke-width="4.6" stroke-linecap="butt"/>
<text transform="translate(1585.19 642.50) scale(0.9751 1.0)" font-size="64">SY148</text>
<line x1="1436.2" y1="721.8" x2="1563.3" y2="721.8" stroke="#ff0000" stroke-width="4.6" stroke-linecap="butt"/>
<text transform="translate(1585.15 742.75) scale(0.9876 1.0)" font-size="64">SY6</text>
<line x1="1436.2" y1="822" x2="1563.3" y2="822" stroke="#000000" stroke-width="4.6" stroke-linecap="butt"/>
<text transform="translate(1585.22 843.00) scale(0.9677 1.0)" font-size="64">SY192</text>
<line x1="1436.2" y1="1615.7" x2="1563.3" y2="1615.7" stroke="#9000ff" stroke-width="4.6" stroke-linecap="butt"/>
<text transform="translate(1589.69 1635.20) scale(0.9280 1.0)" font-size="64">Kokei 14</text>
<line x1="1436.2" y1="1716" x2="1563.3" y2="1716" stroke="#000080" stroke-width="4.6" stroke-linecap="butt"/>
<text transform="translate(1584.33 1735.45) scale(0.9651 1.0)" font-size="64">SY19</text>
<line x1="1436.2" y1="1816.2" x2="1563.3" y2="1816.2" stroke="#008000" stroke-width="4.6" stroke-linecap="butt"/>
<text transform="translate(1585.17 1835.70) scale(0.9818 1.0)" font-size="64">SY4</text>
<line x1="1436.2" y1="1916.5" x2="1563.3" y2="1916.5" stroke="#ff00ff" stroke-width="4.6" stroke-linecap="butt"/>
<text transform="translate(1586.18 1935.95) scale(0.9789 1.0)" font-size="64">SY175</text>
<line x1="1436.2" y1="2016.7" x2="1563.3" y2="2016.7" stroke="#0000ff" stroke-width="4.6" stroke-linecap="butt"/>
<text transform="translate(1585.19 2036.20) scale(0.9751 1.0)" font-size="64">SY148</text>
<line x1="1436.2" y1="2116.9" x2="1563.3" y2="2116.9" stroke="#ff0000" stroke-width="4.6" stroke-linecap="butt"/>
<text transform="translate(1585.15 2136.45) scale(0.9876 1.0)" font-size="64">SY6</text>
<line x1="1436.2" y1="2217.2" x2="1563.3" y2="2217.2" stroke="#000000" stroke-width="4.6" stroke-linecap="butt"/>
<text transform="translate(1585.22 2236.70) scale(0.9677 1.0)" font-size="64">SY192</text>
<line x1="1188" y1="2972.3" x2="1313" y2="2972.3" stroke="#000080" stroke-width="4.6" stroke-linecap="butt"/>
<circle cx="1251" cy="2972.3" r="8" fill="#000080"/>
<text transform="translate(1334.73 2992.30) scale(0.9651 1.0)" font-size="64">SY19</text>
<text transform="translate(1484.18 2992.30) scale(1.0792 1.0)" font-size="64">–</text>
<text transform="translate(1529.69 2992.30) scale(0.9305 1.0)" font-size="64">Kokei 14</text>
<line x1="1188" y1="3072.6" x2="1313" y2="3072.6" stroke="#008000" stroke-width="4.6" stroke-linecap="butt"/>
<circle cx="1251" cy="3072.6" r="8" fill="#008000"/>
<text transform="translate(1334.67 3092.60) scale(0.9818 1.0)" font-size="64">SY4</text>
<text transform="translate(1456.18 3092.60) scale(1.0792 1.0)" font-size="64">–</text>
<text transform="translate(1501.69 3092.60) scale(0.9305 1.0)" font-size="64">Kokei 14</text>
<line x1="1188" y1="3172.9" x2="1313" y2="3172.9" stroke="#ff00ff" stroke-width="4.6" stroke-linecap="butt"/>
<circle cx="1251" cy="3172.9" r="8" fill="#ff00ff"/>
<text transform="translate(1334.68 3192.90) scale(0.9789 1.0)" font-size="64">SY175</text>
<text transform="translate(1517.38 3192.90) scale(1.0792 1.0)" font-size="64">–</text>
<text transform="translate(1562.89 3192.90) scale(0.9305 1.0)" font-size="64">Kokei 14</text>
<line x1="1188" y1="3273.2" x2="1313" y2="3273.2" stroke="#0000ff" stroke-width="4.6" stroke-linecap="butt"/>
<circle cx="1251" cy="3273.2" r="8" fill="#0000ff"/>
<text transform="translate(1334.69 3293.20) scale(0.9751 1.0)" font-size="64">SY148</text>
<text transform="translate(1516.98 3293.20) scale(1.0792 1.0)" font-size="64">–</text>
<text transform="translate(1562.49 3293.20) scale(0.9305 1.0)" font-size="64">Kokei 14</text>
<line x1="1188" y1="3373.5" x2="1313" y2="3373.5" stroke="#ff0000" stroke-width="4.6" stroke-linecap="butt"/>
<circle cx="1251" cy="3373.5" r="8" fill="#ff0000"/>
<text transform="translate(1334.65 3393.50) scale(0.9876 1.0)" font-size="64">SY6</text>
<text transform="translate(1456.18 3393.50) scale(1.0792 1.0)" font-size="64">–</text>
<text transform="translate(1501.69 3393.50) scale(0.9305 1.0)" font-size="64">Kokei 14</text>
<line x1="1188" y1="3473.8" x2="1313" y2="3473.8" stroke="#000000" stroke-width="4.6" stroke-linecap="butt"/>
<circle cx="1251" cy="3473.8" r="8" fill="#000000"/>
<text transform="translate(1334.72 3493.80) scale(0.9677 1.0)" font-size="64">SY192</text>
<text transform="translate(1515.08 3493.80) scale(1.0792 1.0)" font-size="64">–</text>
<text transform="translate(1560.59 3493.80) scale(0.9305 1.0)" font-size="64">Kokei 14</text>
</svg>
</body></html>
